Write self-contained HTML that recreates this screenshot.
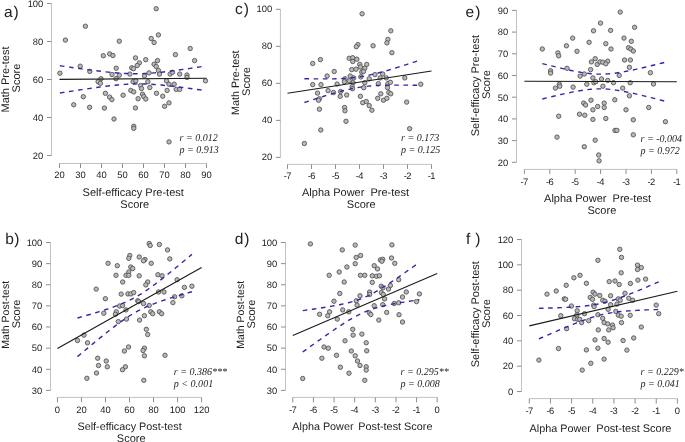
<!DOCTYPE html>
<html><head><meta charset="utf-8"><style>
html,body{margin:0;padding:0;background:#fff;}
body{width:685px;height:442px;overflow:hidden;}
svg{display:block;will-change:transform;}
</style></head><body>
<svg width="685" height="442" viewBox="0 0 685 442" style="font-family:'Liberation Sans',sans-serif" text-rendering="geometricPrecision">
<rect width="685" height="442" fill="#fff"/>
<line x1="51.5" y1="3.5" x2="51.5" y2="155.5" stroke="#c2c2c2" stroke-width="1"/>
<line x1="47.0" y1="155.5" x2="51.5" y2="155.5" stroke="#8e8e8e" stroke-width="1"/>
<text x="43.30" y="158.80" font-size="9.4" text-anchor="end" font-family="Liberation Sans"  fill="#222" >20</text>
<line x1="47.0" y1="117.5" x2="51.5" y2="117.5" stroke="#8e8e8e" stroke-width="1"/>
<text x="43.30" y="120.80" font-size="9.4" text-anchor="end" font-family="Liberation Sans"  fill="#222" >40</text>
<line x1="47.0" y1="79.5" x2="51.5" y2="79.5" stroke="#8e8e8e" stroke-width="1"/>
<text x="43.30" y="82.80" font-size="9.4" text-anchor="end" font-family="Liberation Sans"  fill="#222" >60</text>
<line x1="47.0" y1="41.5" x2="51.5" y2="41.5" stroke="#8e8e8e" stroke-width="1"/>
<text x="43.30" y="44.80" font-size="9.4" text-anchor="end" font-family="Liberation Sans"  fill="#222" >80</text>
<line x1="47.0" y1="3.5" x2="51.5" y2="3.5" stroke="#8e8e8e" stroke-width="1"/>
<text x="43.30" y="6.80" font-size="9.4" text-anchor="end" font-family="Liberation Sans"  fill="#222" >100</text>
<line x1="59.5" y1="163.5" x2="206.5" y2="163.5" stroke="#c2c2c2" stroke-width="1"/>
<line x1="59.5" y1="163.5" x2="59.5" y2="168.0" stroke="#8e8e8e" stroke-width="1"/>
<text x="59.50" y="178.40" font-size="9.4" text-anchor="middle" font-family="Liberation Sans"  fill="#222" >20</text>
<line x1="80.5" y1="163.5" x2="80.5" y2="168.0" stroke="#8e8e8e" stroke-width="1"/>
<text x="80.50" y="178.40" font-size="9.4" text-anchor="middle" font-family="Liberation Sans"  fill="#222" >30</text>
<line x1="101.5" y1="163.5" x2="101.5" y2="168.0" stroke="#8e8e8e" stroke-width="1"/>
<text x="101.50" y="178.40" font-size="9.4" text-anchor="middle" font-family="Liberation Sans"  fill="#222" >40</text>
<line x1="122.5" y1="163.5" x2="122.5" y2="168.0" stroke="#8e8e8e" stroke-width="1"/>
<text x="122.50" y="178.40" font-size="9.4" text-anchor="middle" font-family="Liberation Sans"  fill="#222" >50</text>
<line x1="143.5" y1="163.5" x2="143.5" y2="168.0" stroke="#8e8e8e" stroke-width="1"/>
<text x="143.50" y="178.40" font-size="9.4" text-anchor="middle" font-family="Liberation Sans"  fill="#222" >60</text>
<line x1="164.5" y1="163.5" x2="164.5" y2="168.0" stroke="#8e8e8e" stroke-width="1"/>
<text x="164.50" y="178.40" font-size="9.4" text-anchor="middle" font-family="Liberation Sans"  fill="#222" >70</text>
<line x1="185.5" y1="163.5" x2="185.5" y2="168.0" stroke="#8e8e8e" stroke-width="1"/>
<text x="185.50" y="178.40" font-size="9.4" text-anchor="middle" font-family="Liberation Sans"  fill="#222" >80</text>
<line x1="206.5" y1="163.5" x2="206.5" y2="168.0" stroke="#8e8e8e" stroke-width="1"/>
<text x="206.50" y="178.40" font-size="9.4" text-anchor="middle" font-family="Liberation Sans"  fill="#222" >90</text>
<circle cx="65.4" cy="40.1" r="2.2" fill="#b9b9b9" stroke="#555" stroke-width="0.9"/>
<circle cx="85.4" cy="26.2" r="2.2" fill="#b9b9b9" stroke="#555" stroke-width="0.9"/>
<circle cx="119.3" cy="41.2" r="2.2" fill="#b9b9b9" stroke="#555" stroke-width="0.9"/>
<circle cx="103.3" cy="55.7" r="2.2" fill="#b9b9b9" stroke="#555" stroke-width="0.9"/>
<circle cx="109.7" cy="53.9" r="2.2" fill="#b9b9b9" stroke="#555" stroke-width="0.9"/>
<circle cx="112.9" cy="55.5" r="2.2" fill="#b9b9b9" stroke="#555" stroke-width="0.9"/>
<circle cx="135.5" cy="57.9" r="2.2" fill="#b9b9b9" stroke="#555" stroke-width="0.9"/>
<circle cx="80.2" cy="66.2" r="2.2" fill="#b9b9b9" stroke="#555" stroke-width="0.9"/>
<circle cx="89.8" cy="71.4" r="2.2" fill="#b9b9b9" stroke="#555" stroke-width="0.9"/>
<circle cx="59.9" cy="73.2" r="2.2" fill="#b9b9b9" stroke="#555" stroke-width="0.9"/>
<circle cx="116.2" cy="68.2" r="2.2" fill="#b9b9b9" stroke="#555" stroke-width="0.9"/>
<circle cx="112" cy="74.5" r="2.2" fill="#b9b9b9" stroke="#555" stroke-width="0.9"/>
<circle cx="119.3" cy="75.2" r="2.2" fill="#b9b9b9" stroke="#555" stroke-width="0.9"/>
<circle cx="131.7" cy="67.8" r="2.2" fill="#b9b9b9" stroke="#555" stroke-width="0.9"/>
<circle cx="133.5" cy="68.7" r="2.2" fill="#b9b9b9" stroke="#555" stroke-width="0.9"/>
<circle cx="129.9" cy="74.1" r="2.2" fill="#b9b9b9" stroke="#555" stroke-width="0.9"/>
<circle cx="101" cy="78.7" r="2.2" fill="#b9b9b9" stroke="#555" stroke-width="0.9"/>
<circle cx="116" cy="78.7" r="2.2" fill="#b9b9b9" stroke="#555" stroke-width="0.9"/>
<circle cx="156.2" cy="8.7" r="2.2" fill="#b9b9b9" stroke="#555" stroke-width="0.9"/>
<circle cx="158.4" cy="34.9" r="2.2" fill="#b9b9b9" stroke="#555" stroke-width="0.9"/>
<circle cx="151.2" cy="38.5" r="2.2" fill="#b9b9b9" stroke="#555" stroke-width="0.9"/>
<circle cx="154.1" cy="42.5" r="2.2" fill="#b9b9b9" stroke="#555" stroke-width="0.9"/>
<circle cx="190.2" cy="48.5" r="2.2" fill="#b9b9b9" stroke="#555" stroke-width="0.9"/>
<circle cx="175.4" cy="54.6" r="2.2" fill="#b9b9b9" stroke="#555" stroke-width="0.9"/>
<circle cx="194.6" cy="60.6" r="2.2" fill="#b9b9b9" stroke="#555" stroke-width="0.9"/>
<circle cx="145.7" cy="59.7" r="2.2" fill="#b9b9b9" stroke="#555" stroke-width="0.9"/>
<circle cx="157.5" cy="60.6" r="2.2" fill="#b9b9b9" stroke="#555" stroke-width="0.9"/>
<circle cx="139.4" cy="62.9" r="2.2" fill="#b9b9b9" stroke="#555" stroke-width="0.9"/>
<circle cx="137.2" cy="65.5" r="2.2" fill="#b9b9b9" stroke="#555" stroke-width="0.9"/>
<circle cx="154.1" cy="64.2" r="2.2" fill="#b9b9b9" stroke="#555" stroke-width="0.9"/>
<circle cx="156.2" cy="66.5" r="2.2" fill="#b9b9b9" stroke="#555" stroke-width="0.9"/>
<circle cx="158.4" cy="70.5" r="2.2" fill="#b9b9b9" stroke="#555" stroke-width="0.9"/>
<circle cx="149" cy="72.9" r="2.2" fill="#b9b9b9" stroke="#555" stroke-width="0.9"/>
<circle cx="159.5" cy="74.1" r="2.2" fill="#b9b9b9" stroke="#555" stroke-width="0.9"/>
<circle cx="170.1" cy="74.1" r="2.2" fill="#b9b9b9" stroke="#555" stroke-width="0.9"/>
<circle cx="172.5" cy="72.3" r="2.2" fill="#b9b9b9" stroke="#555" stroke-width="0.9"/>
<circle cx="179.7" cy="74.1" r="2.2" fill="#b9b9b9" stroke="#555" stroke-width="0.9"/>
<circle cx="187" cy="75" r="2.2" fill="#b9b9b9" stroke="#555" stroke-width="0.9"/>
<circle cx="187" cy="77.4" r="2.2" fill="#b9b9b9" stroke="#555" stroke-width="0.9"/>
<circle cx="144.5" cy="75.9" r="2.2" fill="#b9b9b9" stroke="#555" stroke-width="0.9"/>
<circle cx="205.5" cy="80.8" r="2.2" fill="#b9b9b9" stroke="#555" stroke-width="0.9"/>
<circle cx="98.1" cy="81.7" r="2.2" fill="#b9b9b9" stroke="#555" stroke-width="0.9"/>
<circle cx="100.4" cy="83.3" r="2.2" fill="#b9b9b9" stroke="#555" stroke-width="0.9"/>
<circle cx="133.1" cy="81.7" r="2.2" fill="#b9b9b9" stroke="#555" stroke-width="0.9"/>
<circle cx="130.8" cy="90.4" r="2.2" fill="#b9b9b9" stroke="#555" stroke-width="0.9"/>
<circle cx="133.7" cy="91.9" r="2.2" fill="#b9b9b9" stroke="#555" stroke-width="0.9"/>
<circle cx="105.4" cy="93.3" r="2.2" fill="#b9b9b9" stroke="#555" stroke-width="0.9"/>
<circle cx="123.1" cy="95.2" r="2.2" fill="#b9b9b9" stroke="#555" stroke-width="0.9"/>
<circle cx="83.3" cy="96.7" r="2.2" fill="#b9b9b9" stroke="#555" stroke-width="0.9"/>
<circle cx="109.6" cy="97.1" r="2.2" fill="#b9b9b9" stroke="#555" stroke-width="0.9"/>
<circle cx="111.9" cy="99.6" r="2.2" fill="#b9b9b9" stroke="#555" stroke-width="0.9"/>
<circle cx="73.7" cy="104.8" r="2.2" fill="#b9b9b9" stroke="#555" stroke-width="0.9"/>
<circle cx="89.6" cy="107.3" r="2.2" fill="#b9b9b9" stroke="#555" stroke-width="0.9"/>
<circle cx="104.4" cy="108.1" r="2.2" fill="#b9b9b9" stroke="#555" stroke-width="0.9"/>
<circle cx="135.4" cy="107.9" r="2.2" fill="#b9b9b9" stroke="#555" stroke-width="0.9"/>
<circle cx="114" cy="119" r="2.2" fill="#b9b9b9" stroke="#555" stroke-width="0.9"/>
<circle cx="133.8" cy="126.3" r="2.2" fill="#b9b9b9" stroke="#555" stroke-width="0.9"/>
<circle cx="133.8" cy="128.3" r="2.2" fill="#b9b9b9" stroke="#555" stroke-width="0.9"/>
<circle cx="135.8" cy="80.8" r="2.2" fill="#b9b9b9" stroke="#555" stroke-width="0.9"/>
<circle cx="147.9" cy="81.7" r="2.2" fill="#b9b9b9" stroke="#555" stroke-width="0.9"/>
<circle cx="166.5" cy="80.8" r="2.2" fill="#b9b9b9" stroke="#555" stroke-width="0.9"/>
<circle cx="169" cy="84.2" r="2.2" fill="#b9b9b9" stroke="#555" stroke-width="0.9"/>
<circle cx="174.2" cy="84.2" r="2.2" fill="#b9b9b9" stroke="#555" stroke-width="0.9"/>
<circle cx="140.6" cy="85.6" r="2.2" fill="#b9b9b9" stroke="#555" stroke-width="0.9"/>
<circle cx="141.5" cy="88.5" r="2.2" fill="#b9b9b9" stroke="#555" stroke-width="0.9"/>
<circle cx="149.8" cy="87.5" r="2.2" fill="#b9b9b9" stroke="#555" stroke-width="0.9"/>
<circle cx="176.2" cy="89.4" r="2.2" fill="#b9b9b9" stroke="#555" stroke-width="0.9"/>
<circle cx="179.6" cy="89.4" r="2.2" fill="#b9b9b9" stroke="#555" stroke-width="0.9"/>
<circle cx="167.1" cy="90.4" r="2.2" fill="#b9b9b9" stroke="#555" stroke-width="0.9"/>
<circle cx="142.5" cy="94.2" r="2.2" fill="#b9b9b9" stroke="#555" stroke-width="0.9"/>
<circle cx="156.5" cy="93.3" r="2.2" fill="#b9b9b9" stroke="#555" stroke-width="0.9"/>
<circle cx="143.8" cy="96.5" r="2.2" fill="#b9b9b9" stroke="#555" stroke-width="0.9"/>
<circle cx="162.7" cy="96.2" r="2.2" fill="#b9b9b9" stroke="#555" stroke-width="0.9"/>
<circle cx="145.8" cy="99" r="2.2" fill="#b9b9b9" stroke="#555" stroke-width="0.9"/>
<circle cx="138.1" cy="98.7" r="2.2" fill="#b9b9b9" stroke="#555" stroke-width="0.9"/>
<circle cx="169" cy="102.9" r="2.2" fill="#b9b9b9" stroke="#555" stroke-width="0.9"/>
<circle cx="164.6" cy="106.3" r="2.2" fill="#b9b9b9" stroke="#555" stroke-width="0.9"/>
<circle cx="169" cy="141.9" r="2.2" fill="#b9b9b9" stroke="#555" stroke-width="0.9"/>
<line x1="59.5" y1="79.4" x2="206.5" y2="78.3" stroke="#1a1a1a" stroke-width="1.1"/>
<polyline points="59.90,65.78 62.31,66.12 64.72,66.47 67.13,66.81 69.55,67.16 71.96,67.49 74.37,67.83 76.78,68.17 79.19,68.50 81.60,68.83 84.02,69.15 86.43,69.47 88.84,69.79 91.25,70.10 93.66,70.41 96.07,70.71 98.49,71.00 100.90,71.28 103.31,71.56 105.72,71.83 108.13,72.09 110.54,72.33 112.96,72.56 115.37,72.78 117.78,72.98 120.19,73.16 122.60,73.32 125.01,73.46 127.43,73.57 129.84,73.66 132.25,73.71 134.66,73.74 137.07,73.74 139.48,73.71 141.90,73.64 144.31,73.55 146.72,73.43 149.13,73.28 151.54,73.11 153.95,72.91 156.37,72.70 158.78,72.46 161.19,72.21 163.60,71.94 166.01,71.66 168.42,71.37 170.84,71.06 173.25,70.75 175.66,70.43 178.07,70.10 180.48,69.76 182.89,69.42 185.31,69.07 187.72,68.72 190.13,68.36 192.54,68.00 194.95,67.64 197.37,67.27 199.78,66.90 202.19,66.53 204.60,66.15" fill="none" stroke="#3028b0" stroke-width="1.4" stroke-dasharray="4.6 4.6"/>
<polyline points="59.90,93.02 62.31,92.63 64.72,92.25 67.13,91.87 69.55,91.49 71.96,91.12 74.37,90.75 76.78,90.37 79.19,90.01 81.60,89.64 84.02,89.28 86.43,88.93 88.84,88.57 91.25,88.23 93.66,87.88 96.07,87.55 98.49,87.22 100.90,86.90 103.31,86.58 105.72,86.28 108.13,85.99 110.54,85.70 112.96,85.44 115.37,85.18 117.78,84.95 120.19,84.73 122.60,84.53 125.01,84.36 127.43,84.21 129.84,84.09 132.25,84.00 134.66,83.93 137.07,83.90 139.48,83.90 141.90,83.92 144.31,83.98 146.72,84.07 149.13,84.18 151.54,84.31 153.95,84.47 156.37,84.65 158.78,84.85 161.19,85.07 163.60,85.30 166.01,85.55 168.42,85.80 170.84,86.07 173.25,86.35 175.66,86.63 178.07,86.93 180.48,87.23 182.89,87.53 185.31,87.84 187.72,88.16 190.13,88.48 192.54,88.81 194.95,89.13 197.37,89.46 199.78,89.80 202.19,90.14 204.60,90.48" fill="none" stroke="#3028b0" stroke-width="1.4" stroke-dasharray="4.6 4.6"/>
<text x="3.90" y="16.90" font-size="15.5" text-anchor="start" font-family="Liberation Sans"  fill="#222" letter-spacing="1.0">a)</text>
<text x="133.20" y="195.80" font-size="11" text-anchor="middle" font-family="Liberation Sans"  fill="#222" >Self-efficacy Pre-test</text>
<text x="134.70" y="208.00" font-size="11" text-anchor="middle" font-family="Liberation Sans"  fill="#222" >Score</text>
<text transform="translate(9.40,79.50) rotate(-90)" font-size="11" text-anchor="middle" font-family="Liberation Sans" fill="#222">Math Pre-test</text>
<text transform="translate(19.90,78.00) rotate(-90)" font-size="11" text-anchor="middle" font-family="Liberation Sans" fill="#222">Score</text>
<text transform="translate(179.50,141.10) scale(0.955,1)" font-size="10.5" text-anchor="start" font-family="Liberation Serif" font-style="italic" fill="#222" >r = 0.012</text>
<text transform="translate(179.50,153.20) scale(0.955,1)" font-size="10.5" text-anchor="start" font-family="Liberation Serif" font-style="italic" fill="#222" >p = 0.913</text>
<line x1="280.4" y1="9.3" x2="280.4" y2="157.4" stroke="#c2c2c2" stroke-width="1"/>
<line x1="275.9" y1="157.4" x2="280.4" y2="157.4" stroke="#8e8e8e" stroke-width="1"/>
<text x="272.20" y="160.20" font-size="9.4" text-anchor="end" font-family="Liberation Sans"  fill="#222" >20</text>
<line x1="275.9" y1="120.38" x2="280.4" y2="120.38" stroke="#8e8e8e" stroke-width="1"/>
<text x="272.20" y="123.18" font-size="9.4" text-anchor="end" font-family="Liberation Sans"  fill="#222" >40</text>
<line x1="275.9" y1="83.35" x2="280.4" y2="83.35" stroke="#8e8e8e" stroke-width="1"/>
<text x="272.20" y="86.15" font-size="9.4" text-anchor="end" font-family="Liberation Sans"  fill="#222" >60</text>
<line x1="275.9" y1="46.33" x2="280.4" y2="46.33" stroke="#8e8e8e" stroke-width="1"/>
<text x="272.20" y="49.13" font-size="9.4" text-anchor="end" font-family="Liberation Sans"  fill="#222" >80</text>
<line x1="275.9" y1="9.3" x2="280.4" y2="9.3" stroke="#8e8e8e" stroke-width="1"/>
<text x="272.20" y="12.10" font-size="9.4" text-anchor="end" font-family="Liberation Sans"  fill="#222" >100</text>
<line x1="287.5" y1="164.4" x2="431.5" y2="164.4" stroke="#c2c2c2" stroke-width="1"/>
<line x1="287.5" y1="164.4" x2="287.5" y2="168.9" stroke="#8e8e8e" stroke-width="1"/>
<text x="287.50" y="179.30" font-size="9.4" text-anchor="middle" font-family="Liberation Sans"  fill="#222" >-<tspan dx="-0.6">7</tspan></text>
<line x1="311.5" y1="164.4" x2="311.5" y2="168.9" stroke="#8e8e8e" stroke-width="1"/>
<text x="311.50" y="179.30" font-size="9.4" text-anchor="middle" font-family="Liberation Sans"  fill="#222" >-<tspan dx="-0.6">6</tspan></text>
<line x1="335.5" y1="164.4" x2="335.5" y2="168.9" stroke="#8e8e8e" stroke-width="1"/>
<text x="335.50" y="179.30" font-size="9.4" text-anchor="middle" font-family="Liberation Sans"  fill="#222" >-<tspan dx="-0.6">5</tspan></text>
<line x1="359.5" y1="164.4" x2="359.5" y2="168.9" stroke="#8e8e8e" stroke-width="1"/>
<text x="359.50" y="179.30" font-size="9.4" text-anchor="middle" font-family="Liberation Sans"  fill="#222" >-<tspan dx="-0.6">4</tspan></text>
<line x1="383.5" y1="164.4" x2="383.5" y2="168.9" stroke="#8e8e8e" stroke-width="1"/>
<text x="383.50" y="179.30" font-size="9.4" text-anchor="middle" font-family="Liberation Sans"  fill="#222" >-<tspan dx="-0.6">3</tspan></text>
<line x1="407.5" y1="164.4" x2="407.5" y2="168.9" stroke="#8e8e8e" stroke-width="1"/>
<text x="407.50" y="179.30" font-size="9.4" text-anchor="middle" font-family="Liberation Sans"  fill="#222" >-<tspan dx="-0.6">2</tspan></text>
<line x1="431.5" y1="164.4" x2="431.5" y2="168.9" stroke="#8e8e8e" stroke-width="1"/>
<text x="431.50" y="179.30" font-size="9.4" text-anchor="middle" font-family="Liberation Sans"  fill="#222" >-<tspan dx="-0.6">1</tspan></text>
<circle cx="362.1" cy="13.8" r="2.2" fill="#b9b9b9" stroke="#555" stroke-width="0.9"/>
<circle cx="357.9" cy="44.6" r="2.2" fill="#b9b9b9" stroke="#555" stroke-width="0.9"/>
<circle cx="356.3" cy="46.7" r="2.2" fill="#b9b9b9" stroke="#555" stroke-width="0.9"/>
<circle cx="312.7" cy="63.5" r="2.2" fill="#b9b9b9" stroke="#555" stroke-width="0.9"/>
<circle cx="320.4" cy="59.6" r="2.2" fill="#b9b9b9" stroke="#555" stroke-width="0.9"/>
<circle cx="349.2" cy="58.3" r="2.2" fill="#b9b9b9" stroke="#555" stroke-width="0.9"/>
<circle cx="352.7" cy="57.7" r="2.2" fill="#b9b9b9" stroke="#555" stroke-width="0.9"/>
<circle cx="356.9" cy="59.2" r="2.2" fill="#b9b9b9" stroke="#555" stroke-width="0.9"/>
<circle cx="352.7" cy="61.5" r="2.2" fill="#b9b9b9" stroke="#555" stroke-width="0.9"/>
<circle cx="359.8" cy="64.4" r="2.2" fill="#b9b9b9" stroke="#555" stroke-width="0.9"/>
<circle cx="360.4" cy="67.0" r="2.2" fill="#b9b9b9" stroke="#555" stroke-width="0.9"/>
<circle cx="334.2" cy="71.5" r="2.2" fill="#b9b9b9" stroke="#555" stroke-width="0.9"/>
<circle cx="351.7" cy="69.6" r="2.2" fill="#b9b9b9" stroke="#555" stroke-width="0.9"/>
<circle cx="356" cy="69.2" r="2.2" fill="#b9b9b9" stroke="#555" stroke-width="0.9"/>
<circle cx="361.7" cy="72.1" r="2.2" fill="#b9b9b9" stroke="#555" stroke-width="0.9"/>
<circle cx="327.1" cy="76" r="2.2" fill="#b9b9b9" stroke="#555" stroke-width="0.9"/>
<circle cx="350.2" cy="76" r="2.2" fill="#b9b9b9" stroke="#555" stroke-width="0.9"/>
<circle cx="353.7" cy="77.9" r="2.2" fill="#b9b9b9" stroke="#555" stroke-width="0.9"/>
<circle cx="345" cy="78.8" r="2.2" fill="#b9b9b9" stroke="#555" stroke-width="0.9"/>
<circle cx="312.7" cy="84.6" r="2.2" fill="#b9b9b9" stroke="#555" stroke-width="0.9"/>
<circle cx="321" cy="84.6" r="2.2" fill="#b9b9b9" stroke="#555" stroke-width="0.9"/>
<circle cx="337.1" cy="84" r="2.2" fill="#b9b9b9" stroke="#555" stroke-width="0.9"/>
<circle cx="344.4" cy="81.7" r="2.2" fill="#b9b9b9" stroke="#555" stroke-width="0.9"/>
<circle cx="349.2" cy="80.8" r="2.2" fill="#b9b9b9" stroke="#555" stroke-width="0.9"/>
<circle cx="353.1" cy="82.7" r="2.2" fill="#b9b9b9" stroke="#555" stroke-width="0.9"/>
<circle cx="360.8" cy="76.9" r="2.2" fill="#b9b9b9" stroke="#555" stroke-width="0.9"/>
<circle cx="390.8" cy="30.8" r="2.2" fill="#b9b9b9" stroke="#555" stroke-width="0.9"/>
<circle cx="387.9" cy="39.4" r="2.2" fill="#b9b9b9" stroke="#555" stroke-width="0.9"/>
<circle cx="386.9" cy="42.9" r="2.2" fill="#b9b9b9" stroke="#555" stroke-width="0.9"/>
<circle cx="373.1" cy="45.8" r="2.2" fill="#b9b9b9" stroke="#555" stroke-width="0.9"/>
<circle cx="391.9" cy="52.7" r="2.2" fill="#b9b9b9" stroke="#555" stroke-width="0.9"/>
<circle cx="366.7" cy="64.4" r="2.2" fill="#b9b9b9" stroke="#555" stroke-width="0.9"/>
<circle cx="364.8" cy="68.3" r="2.2" fill="#b9b9b9" stroke="#555" stroke-width="0.9"/>
<circle cx="363.5" cy="71.5" r="2.2" fill="#b9b9b9" stroke="#555" stroke-width="0.9"/>
<circle cx="375" cy="74.6" r="2.2" fill="#b9b9b9" stroke="#555" stroke-width="0.9"/>
<circle cx="382.7" cy="74" r="2.2" fill="#b9b9b9" stroke="#555" stroke-width="0.9"/>
<circle cx="380.2" cy="77.9" r="2.2" fill="#b9b9b9" stroke="#555" stroke-width="0.9"/>
<circle cx="386.3" cy="77.9" r="2.2" fill="#b9b9b9" stroke="#555" stroke-width="0.9"/>
<circle cx="369.2" cy="78.8" r="2.2" fill="#b9b9b9" stroke="#555" stroke-width="0.9"/>
<circle cx="364.8" cy="82.7" r="2.2" fill="#b9b9b9" stroke="#555" stroke-width="0.9"/>
<circle cx="378.3" cy="83.7" r="2.2" fill="#b9b9b9" stroke="#555" stroke-width="0.9"/>
<circle cx="387.9" cy="83.7" r="2.2" fill="#b9b9b9" stroke="#555" stroke-width="0.9"/>
<circle cx="390.4" cy="82.3" r="2.2" fill="#b9b9b9" stroke="#555" stroke-width="0.9"/>
<circle cx="404.8" cy="77.9" r="2.2" fill="#b9b9b9" stroke="#555" stroke-width="0.9"/>
<circle cx="420.8" cy="84.2" r="2.2" fill="#b9b9b9" stroke="#555" stroke-width="0.9"/>
<circle cx="352.1" cy="86.7" r="2.2" fill="#b9b9b9" stroke="#555" stroke-width="0.9"/>
<circle cx="352.5" cy="88.7" r="2.2" fill="#b9b9b9" stroke="#555" stroke-width="0.9"/>
<circle cx="363.7" cy="87.7" r="2.2" fill="#b9b9b9" stroke="#555" stroke-width="0.9"/>
<circle cx="328.1" cy="90.6" r="2.2" fill="#b9b9b9" stroke="#555" stroke-width="0.9"/>
<circle cx="317.5" cy="93.1" r="2.2" fill="#b9b9b9" stroke="#555" stroke-width="0.9"/>
<circle cx="333.5" cy="92.5" r="2.2" fill="#b9b9b9" stroke="#555" stroke-width="0.9"/>
<circle cx="340.6" cy="91.5" r="2.2" fill="#b9b9b9" stroke="#555" stroke-width="0.9"/>
<circle cx="340.2" cy="96.3" r="2.2" fill="#b9b9b9" stroke="#555" stroke-width="0.9"/>
<circle cx="346.7" cy="95" r="2.2" fill="#b9b9b9" stroke="#555" stroke-width="0.9"/>
<circle cx="360.4" cy="96.3" r="2.2" fill="#b9b9b9" stroke="#555" stroke-width="0.9"/>
<circle cx="319.4" cy="98.8" r="2.2" fill="#b9b9b9" stroke="#555" stroke-width="0.9"/>
<circle cx="318.5" cy="100.2" r="2.2" fill="#b9b9b9" stroke="#555" stroke-width="0.9"/>
<circle cx="362.7" cy="102.7" r="2.2" fill="#b9b9b9" stroke="#555" stroke-width="0.9"/>
<circle cx="319.4" cy="109.2" r="2.2" fill="#b9b9b9" stroke="#555" stroke-width="0.9"/>
<circle cx="344.6" cy="107.5" r="2.2" fill="#b9b9b9" stroke="#555" stroke-width="0.9"/>
<circle cx="345" cy="110.8" r="2.2" fill="#b9b9b9" stroke="#555" stroke-width="0.9"/>
<circle cx="346" cy="121.3" r="2.2" fill="#b9b9b9" stroke="#555" stroke-width="0.9"/>
<circle cx="320.8" cy="130" r="2.2" fill="#b9b9b9" stroke="#555" stroke-width="0.9"/>
<circle cx="304.4" cy="143.5" r="2.2" fill="#b9b9b9" stroke="#555" stroke-width="0.9"/>
<circle cx="387.5" cy="87.7" r="2.2" fill="#b9b9b9" stroke="#555" stroke-width="0.9"/>
<circle cx="380.8" cy="93.8" r="2.2" fill="#b9b9b9" stroke="#555" stroke-width="0.9"/>
<circle cx="388.8" cy="92.5" r="2.2" fill="#b9b9b9" stroke="#555" stroke-width="0.9"/>
<circle cx="390.8" cy="93.8" r="2.2" fill="#b9b9b9" stroke="#555" stroke-width="0.9"/>
<circle cx="377.7" cy="98.3" r="2.2" fill="#b9b9b9" stroke="#555" stroke-width="0.9"/>
<circle cx="383.5" cy="100.2" r="2.2" fill="#b9b9b9" stroke="#555" stroke-width="0.9"/>
<circle cx="386.9" cy="98.3" r="2.2" fill="#b9b9b9" stroke="#555" stroke-width="0.9"/>
<circle cx="366.3" cy="101.5" r="2.2" fill="#b9b9b9" stroke="#555" stroke-width="0.9"/>
<circle cx="369.2" cy="105.6" r="2.2" fill="#b9b9b9" stroke="#555" stroke-width="0.9"/>
<circle cx="371.9" cy="110.2" r="2.2" fill="#b9b9b9" stroke="#555" stroke-width="0.9"/>
<circle cx="406.7" cy="102.1" r="2.2" fill="#b9b9b9" stroke="#555" stroke-width="0.9"/>
<circle cx="409.6" cy="128.7" r="2.2" fill="#b9b9b9" stroke="#555" stroke-width="0.9"/>
<line x1="287.5" y1="93.2" x2="431.5" y2="71.0" stroke="#1a1a1a" stroke-width="1.1"/>
<polyline points="304.40,78.71 306.34,78.75 308.28,78.78 310.22,78.81 312.16,78.84 314.10,78.86 316.04,78.88 317.98,78.90 319.92,78.91 321.86,78.91 323.80,78.92 325.74,78.91 327.68,78.90 329.62,78.89 331.56,78.86 333.50,78.83 335.44,78.79 337.38,78.73 339.32,78.67 341.26,78.59 343.20,78.49 345.14,78.38 347.08,78.25 349.02,78.11 350.96,77.94 352.90,77.75 354.84,77.53 356.78,77.29 358.72,77.02 360.66,76.73 362.60,76.41 364.54,76.06 366.48,75.69 368.42,75.29 370.36,74.87 372.30,74.43 374.24,73.97 376.18,73.49 378.12,72.99 380.06,72.48 382.00,71.95 383.94,71.41 385.88,70.86 387.82,70.30 389.76,69.73 391.70,69.15 393.64,68.57 395.58,67.98 397.52,67.38 399.46,66.78 401.40,66.17 403.34,65.55 405.28,64.94 407.22,64.32 409.16,63.69 411.10,63.07 413.04,62.44 414.98,61.81 416.92,61.17 418.86,60.54 420.80,59.90" fill="none" stroke="#3028b0" stroke-width="1.4" stroke-dasharray="4.6 4.6"/>
<polyline points="304.40,102.48 306.34,101.84 308.28,101.21 310.22,100.59 312.16,99.96 314.10,99.34 316.04,98.72 317.98,98.11 319.92,97.50 321.86,96.89 323.80,96.29 325.74,95.70 327.68,95.11 329.62,94.53 331.56,93.95 333.50,93.39 335.44,92.83 337.38,92.29 339.32,91.76 341.26,91.24 343.20,90.73 345.14,90.24 347.08,89.77 349.02,89.32 350.96,88.89 352.90,88.49 354.84,88.11 356.78,87.75 358.72,87.42 360.66,87.11 362.60,86.83 364.54,86.58 366.48,86.36 368.42,86.15 370.36,85.98 372.30,85.82 374.24,85.68 376.18,85.57 378.12,85.47 380.06,85.38 382.00,85.31 383.94,85.25 385.88,85.20 387.82,85.17 389.76,85.14 391.70,85.12 393.64,85.10 395.58,85.10 397.52,85.10 399.46,85.10 401.40,85.11 403.34,85.13 405.28,85.15 407.22,85.17 409.16,85.19 411.10,85.22 413.04,85.25 414.98,85.29 416.92,85.32 418.86,85.36 420.80,85.40" fill="none" stroke="#3028b0" stroke-width="1.4" stroke-dasharray="4.6 4.6"/>
<text x="235.00" y="13.80" font-size="15.5" text-anchor="start" font-family="Liberation Sans"  fill="#222" letter-spacing="1.0">c)</text>
<text x="355.50" y="196.10" font-size="11" text-anchor="middle" font-family="Liberation Sans"  fill="#222" >Alpha Power&#160;&#160;Pre-test</text>
<text x="361.20" y="208.00" font-size="11" text-anchor="middle" font-family="Liberation Sans"  fill="#222" >Score</text>
<text transform="translate(238.90,82.70) rotate(-90)" font-size="10.75" text-anchor="middle" font-family="Liberation Sans" fill="#222">Math Pre-test</text>
<text transform="translate(250.10,81.50) rotate(-90)" font-size="11" text-anchor="middle" font-family="Liberation Sans" fill="#222">Score</text>
<text transform="translate(401.00,141.10) scale(0.955,1)" font-size="10.5" text-anchor="start" font-family="Liberation Serif" font-style="italic" fill="#222" >r = 0.173</text>
<text transform="translate(401.00,153.40) scale(0.955,1)" font-size="10.5" text-anchor="start" font-family="Liberation Serif" font-style="italic" fill="#222" >p = 0.125</text>
<line x1="516.5" y1="10.4" x2="516.5" y2="162.3" stroke="#c2c2c2" stroke-width="1"/>
<line x1="512.0" y1="162.3" x2="516.5" y2="162.3" stroke="#8e8e8e" stroke-width="1"/>
<text x="508.30" y="165.60" font-size="9.4" text-anchor="end" font-family="Liberation Sans"  fill="#222" >20</text>
<line x1="512.0" y1="140.6" x2="516.5" y2="140.6" stroke="#8e8e8e" stroke-width="1"/>
<text x="508.30" y="143.90" font-size="9.4" text-anchor="end" font-family="Liberation Sans"  fill="#222" >30</text>
<line x1="512.0" y1="118.9" x2="516.5" y2="118.9" stroke="#8e8e8e" stroke-width="1"/>
<text x="508.30" y="122.20" font-size="9.4" text-anchor="end" font-family="Liberation Sans"  fill="#222" >40</text>
<line x1="512.0" y1="97.2" x2="516.5" y2="97.2" stroke="#8e8e8e" stroke-width="1"/>
<text x="508.30" y="100.50" font-size="9.4" text-anchor="end" font-family="Liberation Sans"  fill="#222" >50</text>
<line x1="512.0" y1="75.5" x2="516.5" y2="75.5" stroke="#8e8e8e" stroke-width="1"/>
<text x="508.30" y="78.80" font-size="9.4" text-anchor="end" font-family="Liberation Sans"  fill="#222" >60</text>
<line x1="512.0" y1="53.8" x2="516.5" y2="53.8" stroke="#8e8e8e" stroke-width="1"/>
<text x="508.30" y="57.10" font-size="9.4" text-anchor="end" font-family="Liberation Sans"  fill="#222" >70</text>
<line x1="512.0" y1="32.1" x2="516.5" y2="32.1" stroke="#8e8e8e" stroke-width="1"/>
<text x="508.30" y="35.40" font-size="9.4" text-anchor="end" font-family="Liberation Sans"  fill="#222" >80</text>
<line x1="512.0" y1="10.4" x2="516.5" y2="10.4" stroke="#8e8e8e" stroke-width="1"/>
<text x="508.30" y="13.70" font-size="9.4" text-anchor="end" font-family="Liberation Sans"  fill="#222" >90</text>
<line x1="524.4" y1="169.4" x2="676.8" y2="169.4" stroke="#c2c2c2" stroke-width="1"/>
<line x1="524.4" y1="169.4" x2="524.4" y2="173.9" stroke="#8e8e8e" stroke-width="1"/>
<text x="524.40" y="184.90" font-size="9.4" text-anchor="middle" font-family="Liberation Sans"  fill="#222" >-<tspan dx="-0.6">7</tspan></text>
<line x1="549.8" y1="169.4" x2="549.8" y2="173.9" stroke="#8e8e8e" stroke-width="1"/>
<text x="549.80" y="184.90" font-size="9.4" text-anchor="middle" font-family="Liberation Sans"  fill="#222" >-<tspan dx="-0.6">6</tspan></text>
<line x1="575.2" y1="169.4" x2="575.2" y2="173.9" stroke="#8e8e8e" stroke-width="1"/>
<text x="575.20" y="184.90" font-size="9.4" text-anchor="middle" font-family="Liberation Sans"  fill="#222" >-<tspan dx="-0.6">5</tspan></text>
<line x1="600.6" y1="169.4" x2="600.6" y2="173.9" stroke="#8e8e8e" stroke-width="1"/>
<text x="600.60" y="184.90" font-size="9.4" text-anchor="middle" font-family="Liberation Sans"  fill="#222" >-<tspan dx="-0.6">4</tspan></text>
<line x1="626.0" y1="169.4" x2="626.0" y2="173.9" stroke="#8e8e8e" stroke-width="1"/>
<text x="626.00" y="184.90" font-size="9.4" text-anchor="middle" font-family="Liberation Sans"  fill="#222" >-<tspan dx="-0.6">3</tspan></text>
<line x1="651.4" y1="169.4" x2="651.4" y2="173.9" stroke="#8e8e8e" stroke-width="1"/>
<text x="651.40" y="184.90" font-size="9.4" text-anchor="middle" font-family="Liberation Sans"  fill="#222" >-<tspan dx="-0.6">2</tspan></text>
<line x1="676.8" y1="169.4" x2="676.8" y2="173.9" stroke="#8e8e8e" stroke-width="1"/>
<text x="676.80" y="184.90" font-size="9.4" text-anchor="middle" font-family="Liberation Sans"  fill="#222" >-<tspan dx="-0.6">1</tspan></text>
<circle cx="600.5" cy="23.1" r="2.2" fill="#b9b9b9" stroke="#555" stroke-width="0.9"/>
<circle cx="593.5" cy="30.8" r="2.2" fill="#b9b9b9" stroke="#555" stroke-width="0.9"/>
<circle cx="572.7" cy="38.1" r="2.2" fill="#b9b9b9" stroke="#555" stroke-width="0.9"/>
<circle cx="589.1" cy="42.3" r="2.2" fill="#b9b9b9" stroke="#555" stroke-width="0.9"/>
<circle cx="542.3" cy="49" r="2.2" fill="#b9b9b9" stroke="#555" stroke-width="0.9"/>
<circle cx="566.4" cy="45.8" r="2.2" fill="#b9b9b9" stroke="#555" stroke-width="0.9"/>
<circle cx="577" cy="51.3" r="2.2" fill="#b9b9b9" stroke="#555" stroke-width="0.9"/>
<circle cx="557.9" cy="52.9" r="2.2" fill="#b9b9b9" stroke="#555" stroke-width="0.9"/>
<circle cx="558.7" cy="55.8" r="2.2" fill="#b9b9b9" stroke="#555" stroke-width="0.9"/>
<circle cx="595.2" cy="58.7" r="2.2" fill="#b9b9b9" stroke="#555" stroke-width="0.9"/>
<circle cx="591.4" cy="61.9" r="2.2" fill="#b9b9b9" stroke="#555" stroke-width="0.9"/>
<circle cx="597.2" cy="64.4" r="2.2" fill="#b9b9b9" stroke="#555" stroke-width="0.9"/>
<circle cx="600.0" cy="61.9" r="2.2" fill="#b9b9b9" stroke="#555" stroke-width="0.9"/>
<circle cx="602.8" cy="62.2" r="2.2" fill="#b9b9b9" stroke="#555" stroke-width="0.9"/>
<circle cx="567" cy="68.3" r="2.2" fill="#b9b9b9" stroke="#555" stroke-width="0.9"/>
<circle cx="590.6" cy="69.6" r="2.2" fill="#b9b9b9" stroke="#555" stroke-width="0.9"/>
<circle cx="550.6" cy="70.8" r="2.2" fill="#b9b9b9" stroke="#555" stroke-width="0.9"/>
<circle cx="550.6" cy="73.1" r="2.2" fill="#b9b9b9" stroke="#555" stroke-width="0.9"/>
<circle cx="584.3" cy="74" r="2.2" fill="#b9b9b9" stroke="#555" stroke-width="0.9"/>
<circle cx="580.1" cy="76.1" r="2.2" fill="#b9b9b9" stroke="#555" stroke-width="0.9"/>
<circle cx="592.9" cy="77.9" r="2.2" fill="#b9b9b9" stroke="#555" stroke-width="0.9"/>
<circle cx="559.3" cy="84.2" r="2.2" fill="#b9b9b9" stroke="#555" stroke-width="0.9"/>
<circle cx="586.8" cy="84.2" r="2.2" fill="#b9b9b9" stroke="#555" stroke-width="0.9"/>
<circle cx="593.9" cy="82.7" r="2.2" fill="#b9b9b9" stroke="#555" stroke-width="0.9"/>
<circle cx="595.8" cy="81.7" r="2.2" fill="#b9b9b9" stroke="#555" stroke-width="0.9"/>
<circle cx="601.5" cy="79.0" r="2.2" fill="#b9b9b9" stroke="#555" stroke-width="0.9"/>
<circle cx="620.2" cy="12.1" r="2.2" fill="#b9b9b9" stroke="#555" stroke-width="0.9"/>
<circle cx="634.6" cy="27.3" r="2.2" fill="#b9b9b9" stroke="#555" stroke-width="0.9"/>
<circle cx="610.6" cy="30.4" r="2.2" fill="#b9b9b9" stroke="#555" stroke-width="0.9"/>
<circle cx="624" cy="38.1" r="2.2" fill="#b9b9b9" stroke="#555" stroke-width="0.9"/>
<circle cx="631.3" cy="41.3" r="2.2" fill="#b9b9b9" stroke="#555" stroke-width="0.9"/>
<circle cx="605.8" cy="43.7" r="2.2" fill="#b9b9b9" stroke="#555" stroke-width="0.9"/>
<circle cx="611" cy="49" r="2.2" fill="#b9b9b9" stroke="#555" stroke-width="0.9"/>
<circle cx="628.5" cy="47.7" r="2.2" fill="#b9b9b9" stroke="#555" stroke-width="0.9"/>
<circle cx="630.8" cy="49" r="2.2" fill="#b9b9b9" stroke="#555" stroke-width="0.9"/>
<circle cx="633.3" cy="51" r="2.2" fill="#b9b9b9" stroke="#555" stroke-width="0.9"/>
<circle cx="607.7" cy="61.2" r="2.2" fill="#b9b9b9" stroke="#555" stroke-width="0.9"/>
<circle cx="605.8" cy="63.8" r="2.2" fill="#b9b9b9" stroke="#555" stroke-width="0.9"/>
<circle cx="624.6" cy="60" r="2.2" fill="#b9b9b9" stroke="#555" stroke-width="0.9"/>
<circle cx="630.4" cy="60" r="2.2" fill="#b9b9b9" stroke="#555" stroke-width="0.9"/>
<circle cx="629.4" cy="67.3" r="2.2" fill="#b9b9b9" stroke="#555" stroke-width="0.9"/>
<circle cx="619.2" cy="75.4" r="2.2" fill="#b9b9b9" stroke="#555" stroke-width="0.9"/>
<circle cx="650.4" cy="72.7" r="2.2" fill="#b9b9b9" stroke="#555" stroke-width="0.9"/>
<circle cx="607.7" cy="80.4" r="2.2" fill="#b9b9b9" stroke="#555" stroke-width="0.9"/>
<circle cx="613.5" cy="82.7" r="2.2" fill="#b9b9b9" stroke="#555" stroke-width="0.9"/>
<circle cx="630.2" cy="82.7" r="2.2" fill="#b9b9b9" stroke="#555" stroke-width="0.9"/>
<circle cx="653.5" cy="84" r="2.2" fill="#b9b9b9" stroke="#555" stroke-width="0.9"/>
<circle cx="559.8" cy="86.2" r="2.2" fill="#b9b9b9" stroke="#555" stroke-width="0.9"/>
<circle cx="555.4" cy="88.1" r="2.2" fill="#b9b9b9" stroke="#555" stroke-width="0.9"/>
<circle cx="573.1" cy="87.1" r="2.2" fill="#b9b9b9" stroke="#555" stroke-width="0.9"/>
<circle cx="591" cy="100.2" r="2.2" fill="#b9b9b9" stroke="#555" stroke-width="0.9"/>
<circle cx="583.7" cy="103.1" r="2.2" fill="#b9b9b9" stroke="#555" stroke-width="0.9"/>
<circle cx="585.6" cy="105" r="2.2" fill="#b9b9b9" stroke="#555" stroke-width="0.9"/>
<circle cx="597.7" cy="106.5" r="2.2" fill="#b9b9b9" stroke="#555" stroke-width="0.9"/>
<circle cx="592.9" cy="109.8" r="2.2" fill="#b9b9b9" stroke="#555" stroke-width="0.9"/>
<circle cx="579.5" cy="114.2" r="2.2" fill="#b9b9b9" stroke="#555" stroke-width="0.9"/>
<circle cx="584.8" cy="115.2" r="2.2" fill="#b9b9b9" stroke="#555" stroke-width="0.9"/>
<circle cx="558.7" cy="116.2" r="2.2" fill="#b9b9b9" stroke="#555" stroke-width="0.9"/>
<circle cx="592.9" cy="119.4" r="2.2" fill="#b9b9b9" stroke="#555" stroke-width="0.9"/>
<circle cx="557" cy="137.1" r="2.2" fill="#b9b9b9" stroke="#555" stroke-width="0.9"/>
<circle cx="595.2" cy="140.2" r="2.2" fill="#b9b9b9" stroke="#555" stroke-width="0.9"/>
<circle cx="584.3" cy="146.7" r="2.2" fill="#b9b9b9" stroke="#555" stroke-width="0.9"/>
<circle cx="598.7" cy="155" r="2.2" fill="#b9b9b9" stroke="#555" stroke-width="0.9"/>
<circle cx="599.1" cy="160.8" r="2.2" fill="#b9b9b9" stroke="#555" stroke-width="0.9"/>
<circle cx="602.9" cy="86.2" r="2.2" fill="#b9b9b9" stroke="#555" stroke-width="0.9"/>
<circle cx="622.7" cy="88.1" r="2.2" fill="#b9b9b9" stroke="#555" stroke-width="0.9"/>
<circle cx="629.4" cy="95.8" r="2.2" fill="#b9b9b9" stroke="#555" stroke-width="0.9"/>
<circle cx="614.8" cy="99.8" r="2.2" fill="#b9b9b9" stroke="#555" stroke-width="0.9"/>
<circle cx="604.2" cy="103.1" r="2.2" fill="#b9b9b9" stroke="#555" stroke-width="0.9"/>
<circle cx="604.2" cy="107.5" r="2.2" fill="#b9b9b9" stroke="#555" stroke-width="0.9"/>
<circle cx="626" cy="109.8" r="2.2" fill="#b9b9b9" stroke="#555" stroke-width="0.9"/>
<circle cx="648.7" cy="107.5" r="2.2" fill="#b9b9b9" stroke="#555" stroke-width="0.9"/>
<circle cx="605.8" cy="118.5" r="2.2" fill="#b9b9b9" stroke="#555" stroke-width="0.9"/>
<circle cx="633.3" cy="119.8" r="2.2" fill="#b9b9b9" stroke="#555" stroke-width="0.9"/>
<circle cx="665.4" cy="121.7" r="2.2" fill="#b9b9b9" stroke="#555" stroke-width="0.9"/>
<circle cx="615" cy="130.4" r="2.2" fill="#b9b9b9" stroke="#555" stroke-width="0.9"/>
<circle cx="616.9" cy="130.4" r="2.2" fill="#b9b9b9" stroke="#555" stroke-width="0.9"/>
<circle cx="633.3" cy="134.8" r="2.2" fill="#b9b9b9" stroke="#555" stroke-width="0.9"/>
<line x1="524.4" y1="81.2" x2="676.8" y2="81.8" stroke="#1a1a1a" stroke-width="1.1"/>
<polyline points="542.30,63.58 544.35,64.11 546.40,64.63 548.45,65.15 550.51,65.66 552.56,66.17 554.61,66.68 556.66,67.18 558.71,67.67 560.76,68.16 562.82,68.63 564.87,69.10 566.92,69.56 568.97,70.01 571.02,70.45 573.07,70.88 575.13,71.28 577.18,71.68 579.23,72.05 581.28,72.40 583.33,72.73 585.38,73.03 587.44,73.30 589.49,73.54 591.54,73.75 593.59,73.92 595.64,74.04 597.69,74.13 599.75,74.17 601.80,74.16 603.85,74.11 605.90,74.02 607.95,73.89 610.00,73.72 612.06,73.51 614.11,73.27 616.16,72.99 618.21,72.69 620.26,72.37 622.31,72.02 624.37,71.65 626.42,71.26 628.47,70.86 630.52,70.45 632.57,70.02 634.62,69.58 636.68,69.13 638.73,68.67 640.78,68.20 642.83,67.73 644.88,67.25 646.93,66.76 648.99,66.27 651.04,65.78 653.09,65.28 655.14,64.77 657.19,64.27 659.25,63.75 661.30,63.24 663.35,62.72 665.40,62.20" fill="none" stroke="#3028b0" stroke-width="1.4" stroke-dasharray="4.6 4.6"/>
<polyline points="542.30,98.96 544.35,98.45 546.40,97.94 548.45,97.44 550.51,96.94 552.56,96.45 554.61,95.96 556.66,95.48 558.71,95.00 560.76,94.53 562.82,94.07 564.87,93.62 566.92,93.17 568.97,92.74 571.02,92.32 573.07,91.91 575.13,91.51 577.18,91.14 579.23,90.78 581.28,90.45 583.33,90.13 585.38,89.85 587.44,89.59 589.49,89.37 591.54,89.18 593.59,89.03 595.64,88.92 597.69,88.85 599.75,88.83 601.80,88.85 603.85,88.91 605.90,89.02 607.95,89.17 610.00,89.36 612.06,89.58 614.11,89.84 616.16,90.13 618.21,90.45 620.26,90.79 622.31,91.15 624.37,91.54 626.42,91.94 628.47,92.36 630.52,92.79 632.57,93.23 634.62,93.69 636.68,94.15 638.73,94.63 640.78,95.11 642.83,95.60 644.88,96.10 646.93,96.60 648.99,97.11 651.04,97.62 653.09,98.14 655.14,98.66 657.19,99.18 659.25,99.71 661.30,100.24 663.35,100.77 665.40,101.31" fill="none" stroke="#3028b0" stroke-width="1.4" stroke-dasharray="4.6 4.6"/>
<text x="465.60" y="16.80" font-size="15.5" text-anchor="start" font-family="Liberation Sans"  fill="#222" letter-spacing="1.0">e)</text>
<text x="597.60" y="202.10" font-size="11" text-anchor="middle" font-family="Liberation Sans"  fill="#222" >Alpha Power&#160;&#160;Pre-test</text>
<text x="601.90" y="213.80" font-size="11" text-anchor="middle" font-family="Liberation Sans"  fill="#222" >Score</text>
<text transform="translate(478.50,85.65) rotate(-90)" font-size="11" text-anchor="middle" font-family="Liberation Sans" fill="#222">Self-efficacy Pre-test</text>
<text transform="translate(490.00,84.60) rotate(-90)" font-size="11" text-anchor="middle" font-family="Liberation Sans" fill="#222">Score</text>
<text transform="translate(640.50,141.60) scale(0.955,1)" font-size="10.5" text-anchor="start" font-family="Liberation Serif" font-style="italic" fill="#222" >r = -0.004</text>
<text transform="translate(640.50,153.90) scale(0.955,1)" font-size="10.5" text-anchor="start" font-family="Liberation Serif" font-style="italic" fill="#222" >p = 0.972</text>
<line x1="50.5" y1="242.5" x2="50.5" y2="390.4" stroke="#c2c2c2" stroke-width="1"/>
<line x1="46.0" y1="390.4" x2="50.5" y2="390.4" stroke="#8e8e8e" stroke-width="1"/>
<text x="42.30" y="393.70" font-size="9.4" text-anchor="end" font-family="Liberation Sans"  fill="#222" >30</text>
<line x1="46.0" y1="369.27" x2="50.5" y2="369.27" stroke="#8e8e8e" stroke-width="1"/>
<text x="42.30" y="372.57" font-size="9.4" text-anchor="end" font-family="Liberation Sans"  fill="#222" >40</text>
<line x1="46.0" y1="348.14" x2="50.5" y2="348.14" stroke="#8e8e8e" stroke-width="1"/>
<text x="42.30" y="351.44" font-size="9.4" text-anchor="end" font-family="Liberation Sans"  fill="#222" >50</text>
<line x1="46.0" y1="327.01" x2="50.5" y2="327.01" stroke="#8e8e8e" stroke-width="1"/>
<text x="42.30" y="330.31" font-size="9.4" text-anchor="end" font-family="Liberation Sans"  fill="#222" >60</text>
<line x1="46.0" y1="305.89" x2="50.5" y2="305.89" stroke="#8e8e8e" stroke-width="1"/>
<text x="42.30" y="309.19" font-size="9.4" text-anchor="end" font-family="Liberation Sans"  fill="#222" >70</text>
<line x1="46.0" y1="284.76" x2="50.5" y2="284.76" stroke="#8e8e8e" stroke-width="1"/>
<text x="42.30" y="288.06" font-size="9.4" text-anchor="end" font-family="Liberation Sans"  fill="#222" >80</text>
<line x1="46.0" y1="263.63" x2="50.5" y2="263.63" stroke="#8e8e8e" stroke-width="1"/>
<text x="42.30" y="266.93" font-size="9.4" text-anchor="end" font-family="Liberation Sans"  fill="#222" >90</text>
<line x1="46.0" y1="242.5" x2="50.5" y2="242.5" stroke="#8e8e8e" stroke-width="1"/>
<text x="42.30" y="245.80" font-size="9.4" text-anchor="end" font-family="Liberation Sans"  fill="#222" >100</text>
<line x1="57.4" y1="397.4" x2="201.6" y2="397.4" stroke="#c2c2c2" stroke-width="1"/>
<line x1="57.4" y1="397.4" x2="57.4" y2="402.4" stroke="#8e8e8e" stroke-width="1"/>
<text x="57.40" y="413.20" font-size="9.4" text-anchor="middle" font-family="Liberation Sans"  fill="#222" >0</text>
<line x1="81.43" y1="397.4" x2="81.43" y2="402.4" stroke="#8e8e8e" stroke-width="1"/>
<text x="81.43" y="413.20" font-size="9.4" text-anchor="middle" font-family="Liberation Sans"  fill="#222" >20</text>
<line x1="105.47" y1="397.4" x2="105.47" y2="402.4" stroke="#8e8e8e" stroke-width="1"/>
<text x="105.47" y="413.20" font-size="9.4" text-anchor="middle" font-family="Liberation Sans"  fill="#222" >40</text>
<line x1="129.5" y1="397.4" x2="129.5" y2="402.4" stroke="#8e8e8e" stroke-width="1"/>
<text x="129.50" y="413.20" font-size="9.4" text-anchor="middle" font-family="Liberation Sans"  fill="#222" >60</text>
<line x1="153.53" y1="397.4" x2="153.53" y2="402.4" stroke="#8e8e8e" stroke-width="1"/>
<text x="153.53" y="413.20" font-size="9.4" text-anchor="middle" font-family="Liberation Sans"  fill="#222" >80</text>
<line x1="177.57" y1="397.4" x2="177.57" y2="402.4" stroke="#8e8e8e" stroke-width="1"/>
<text x="177.57" y="413.20" font-size="9.4" text-anchor="middle" font-family="Liberation Sans"  fill="#222" >100</text>
<line x1="201.6" y1="397.4" x2="201.6" y2="402.4" stroke="#8e8e8e" stroke-width="1"/>
<text x="201.60" y="413.20" font-size="9.4" text-anchor="middle" font-family="Liberation Sans"  fill="#222" >120</text>
<circle cx="129.8" cy="255.5" r="2.2" fill="#b9b9b9" stroke="#555" stroke-width="0.9"/>
<circle cx="128.8" cy="258.3" r="2.2" fill="#b9b9b9" stroke="#555" stroke-width="0.9"/>
<circle cx="108.1" cy="263.3" r="2.2" fill="#b9b9b9" stroke="#555" stroke-width="0.9"/>
<circle cx="117.3" cy="265.7" r="2.2" fill="#b9b9b9" stroke="#555" stroke-width="0.9"/>
<circle cx="130.8" cy="267" r="2.2" fill="#b9b9b9" stroke="#555" stroke-width="0.9"/>
<circle cx="132.7" cy="268.5" r="2.2" fill="#b9b9b9" stroke="#555" stroke-width="0.9"/>
<circle cx="128.8" cy="272" r="2.2" fill="#b9b9b9" stroke="#555" stroke-width="0.9"/>
<circle cx="126" cy="275.3" r="2.2" fill="#b9b9b9" stroke="#555" stroke-width="0.9"/>
<circle cx="128.8" cy="275.3" r="2.2" fill="#b9b9b9" stroke="#555" stroke-width="0.9"/>
<circle cx="116" cy="275.3" r="2.2" fill="#b9b9b9" stroke="#555" stroke-width="0.9"/>
<circle cx="122.7" cy="282" r="2.2" fill="#b9b9b9" stroke="#555" stroke-width="0.9"/>
<circle cx="96.2" cy="289.1" r="2.2" fill="#b9b9b9" stroke="#555" stroke-width="0.9"/>
<circle cx="121.2" cy="294.1" r="2.2" fill="#b9b9b9" stroke="#555" stroke-width="0.9"/>
<circle cx="127.9" cy="293.9" r="2.2" fill="#b9b9b9" stroke="#555" stroke-width="0.9"/>
<circle cx="130.8" cy="293.9" r="2.2" fill="#b9b9b9" stroke="#555" stroke-width="0.9"/>
<circle cx="133.7" cy="292.6" r="2.2" fill="#b9b9b9" stroke="#555" stroke-width="0.9"/>
<circle cx="105.4" cy="298.7" r="2.2" fill="#b9b9b9" stroke="#555" stroke-width="0.9"/>
<circle cx="119.6" cy="306" r="2.2" fill="#b9b9b9" stroke="#555" stroke-width="0.9"/>
<circle cx="122.5" cy="305.5" r="2.2" fill="#b9b9b9" stroke="#555" stroke-width="0.9"/>
<circle cx="126" cy="309.9" r="2.2" fill="#b9b9b9" stroke="#555" stroke-width="0.9"/>
<circle cx="116.3" cy="311.8" r="2.2" fill="#b9b9b9" stroke="#555" stroke-width="0.9"/>
<circle cx="103.8" cy="313.2" r="2.2" fill="#b9b9b9" stroke="#555" stroke-width="0.9"/>
<circle cx="115.4" cy="314.3" r="2.2" fill="#b9b9b9" stroke="#555" stroke-width="0.9"/>
<circle cx="149.2" cy="243.5" r="2.2" fill="#b9b9b9" stroke="#555" stroke-width="0.9"/>
<circle cx="150.2" cy="245.5" r="2.2" fill="#b9b9b9" stroke="#555" stroke-width="0.9"/>
<circle cx="159.4" cy="244.5" r="2.2" fill="#b9b9b9" stroke="#555" stroke-width="0.9"/>
<circle cx="167.5" cy="249.9" r="2.2" fill="#b9b9b9" stroke="#555" stroke-width="0.9"/>
<circle cx="139.2" cy="257" r="2.2" fill="#b9b9b9" stroke="#555" stroke-width="0.9"/>
<circle cx="145" cy="259.5" r="2.2" fill="#b9b9b9" stroke="#555" stroke-width="0.9"/>
<circle cx="143.5" cy="260.8" r="2.2" fill="#b9b9b9" stroke="#555" stroke-width="0.9"/>
<circle cx="151.2" cy="263.3" r="2.2" fill="#b9b9b9" stroke="#555" stroke-width="0.9"/>
<circle cx="169.8" cy="258.9" r="2.2" fill="#b9b9b9" stroke="#555" stroke-width="0.9"/>
<circle cx="139.2" cy="275.8" r="2.2" fill="#b9b9b9" stroke="#555" stroke-width="0.9"/>
<circle cx="157.9" cy="274.7" r="2.2" fill="#b9b9b9" stroke="#555" stroke-width="0.9"/>
<circle cx="162.1" cy="275.8" r="2.2" fill="#b9b9b9" stroke="#555" stroke-width="0.9"/>
<circle cx="177.1" cy="279.7" r="2.2" fill="#b9b9b9" stroke="#555" stroke-width="0.9"/>
<circle cx="147.7" cy="282" r="2.2" fill="#b9b9b9" stroke="#555" stroke-width="0.9"/>
<circle cx="145.8" cy="284.9" r="2.2" fill="#b9b9b9" stroke="#555" stroke-width="0.9"/>
<circle cx="184.4" cy="287.4" r="2.2" fill="#b9b9b9" stroke="#555" stroke-width="0.9"/>
<circle cx="191.9" cy="286.2" r="2.2" fill="#b9b9b9" stroke="#555" stroke-width="0.9"/>
<circle cx="158.5" cy="292" r="2.2" fill="#b9b9b9" stroke="#555" stroke-width="0.9"/>
<circle cx="164" cy="292" r="2.2" fill="#b9b9b9" stroke="#555" stroke-width="0.9"/>
<circle cx="174.6" cy="296.8" r="2.2" fill="#b9b9b9" stroke="#555" stroke-width="0.9"/>
<circle cx="181.9" cy="295.8" r="2.2" fill="#b9b9b9" stroke="#555" stroke-width="0.9"/>
<circle cx="137.7" cy="300.8" r="2.2" fill="#b9b9b9" stroke="#555" stroke-width="0.9"/>
<circle cx="138.7" cy="301.6" r="2.2" fill="#b9b9b9" stroke="#555" stroke-width="0.9"/>
<circle cx="143.5" cy="303.5" r="2.2" fill="#b9b9b9" stroke="#555" stroke-width="0.9"/>
<circle cx="149.2" cy="305.5" r="2.2" fill="#b9b9b9" stroke="#555" stroke-width="0.9"/>
<circle cx="172.9" cy="302.6" r="2.2" fill="#b9b9b9" stroke="#555" stroke-width="0.9"/>
<circle cx="150.8" cy="311.8" r="2.2" fill="#b9b9b9" stroke="#555" stroke-width="0.9"/>
<circle cx="152.7" cy="313.7" r="2.2" fill="#b9b9b9" stroke="#555" stroke-width="0.9"/>
<circle cx="159.4" cy="311.8" r="2.2" fill="#b9b9b9" stroke="#555" stroke-width="0.9"/>
<circle cx="161.7" cy="313.7" r="2.2" fill="#b9b9b9" stroke="#555" stroke-width="0.9"/>
<circle cx="144.4" cy="315.7" r="2.2" fill="#b9b9b9" stroke="#555" stroke-width="0.9"/>
<circle cx="118.3" cy="321.6" r="2.2" fill="#b9b9b9" stroke="#555" stroke-width="0.9"/>
<circle cx="126.5" cy="319.1" r="2.2" fill="#b9b9b9" stroke="#555" stroke-width="0.9"/>
<circle cx="84" cy="335.1" r="2.2" fill="#b9b9b9" stroke="#555" stroke-width="0.9"/>
<circle cx="77.5" cy="340.5" r="2.2" fill="#b9b9b9" stroke="#555" stroke-width="0.9"/>
<circle cx="87.5" cy="342.8" r="2.2" fill="#b9b9b9" stroke="#555" stroke-width="0.9"/>
<circle cx="128.5" cy="347" r="2.2" fill="#b9b9b9" stroke="#555" stroke-width="0.9"/>
<circle cx="124.4" cy="351" r="2.2" fill="#b9b9b9" stroke="#555" stroke-width="0.9"/>
<circle cx="97.7" cy="358.2" r="2.2" fill="#b9b9b9" stroke="#555" stroke-width="0.9"/>
<circle cx="106.2" cy="361" r="2.2" fill="#b9b9b9" stroke="#555" stroke-width="0.9"/>
<circle cx="98.5" cy="365.5" r="2.2" fill="#b9b9b9" stroke="#555" stroke-width="0.9"/>
<circle cx="107.3" cy="366.8" r="2.2" fill="#b9b9b9" stroke="#555" stroke-width="0.9"/>
<circle cx="125.4" cy="366.8" r="2.2" fill="#b9b9b9" stroke="#555" stroke-width="0.9"/>
<circle cx="122.5" cy="369.7" r="2.2" fill="#b9b9b9" stroke="#555" stroke-width="0.9"/>
<circle cx="96.5" cy="373" r="2.2" fill="#b9b9b9" stroke="#555" stroke-width="0.9"/>
<circle cx="86.9" cy="378.3" r="2.2" fill="#b9b9b9" stroke="#555" stroke-width="0.9"/>
<circle cx="139.6" cy="320.1" r="2.2" fill="#b9b9b9" stroke="#555" stroke-width="0.9"/>
<circle cx="146.3" cy="329.3" r="2.2" fill="#b9b9b9" stroke="#555" stroke-width="0.9"/>
<circle cx="147.7" cy="334.5" r="2.2" fill="#b9b9b9" stroke="#555" stroke-width="0.9"/>
<circle cx="144.4" cy="348.2" r="2.2" fill="#b9b9b9" stroke="#555" stroke-width="0.9"/>
<circle cx="143.1" cy="350.5" r="2.2" fill="#b9b9b9" stroke="#555" stroke-width="0.9"/>
<circle cx="144.4" cy="355.8" r="2.2" fill="#b9b9b9" stroke="#555" stroke-width="0.9"/>
<circle cx="165" cy="355.3" r="2.2" fill="#b9b9b9" stroke="#555" stroke-width="0.9"/>
<circle cx="143.8" cy="380.3" r="2.2" fill="#b9b9b9" stroke="#555" stroke-width="0.9"/>
<line x1="57.4" y1="348.6" x2="201.6" y2="267.6" stroke="#1a1a1a" stroke-width="1.1"/>
<polyline points="77.50,318.01 79.41,317.48 81.31,316.93 83.22,316.39 85.13,315.84 87.03,315.29 88.94,314.74 90.85,314.18 92.75,313.61 94.66,313.04 96.57,312.46 98.47,311.88 100.38,311.29 102.29,310.69 104.19,310.08 106.10,309.46 108.01,308.83 109.91,308.18 111.82,307.52 113.73,306.84 115.63,306.15 117.54,305.43 119.45,304.69 121.35,303.93 123.26,303.14 125.17,302.31 127.07,301.45 128.98,300.55 130.89,299.61 132.79,298.63 134.70,297.61 136.61,296.54 138.51,295.43 140.42,294.28 142.33,293.08 144.23,291.84 146.14,290.56 148.05,289.25 149.95,287.91 151.86,286.54 153.77,285.14 155.67,283.71 157.58,282.27 159.49,280.81 161.39,279.33 163.30,277.83 165.21,276.32 167.11,274.80 169.02,273.27 170.93,271.73 172.83,270.18 174.74,268.63 176.65,267.06 178.55,265.49 180.46,263.92 182.37,262.33 184.27,260.75 186.18,259.16 188.09,257.57 189.99,255.97 191.90,254.37" fill="none" stroke="#3028b0" stroke-width="1.4" stroke-dasharray="4.6 4.6"/>
<polyline points="77.50,356.60 79.41,355.00 81.31,353.40 83.22,351.80 85.13,350.21 87.03,348.62 88.94,347.03 90.85,345.45 92.75,343.87 94.66,342.30 96.57,340.74 98.47,339.18 100.38,337.63 102.29,336.09 104.19,334.55 106.10,333.03 108.01,331.52 109.91,330.02 111.82,328.54 113.73,327.08 115.63,325.63 117.54,324.20 119.45,322.80 121.35,321.42 123.26,320.07 125.17,318.76 127.07,317.48 128.98,316.23 130.89,315.03 132.79,313.87 134.70,312.75 136.61,311.67 138.51,310.64 140.42,309.66 142.33,308.71 144.23,307.81 146.14,306.94 148.05,306.11 149.95,305.31 151.86,304.54 153.77,303.80 155.67,303.08 157.58,302.38 159.49,301.70 161.39,301.04 163.30,300.40 165.21,299.76 167.11,299.14 169.02,298.53 170.93,297.93 172.83,297.34 174.74,296.75 176.65,296.17 178.55,295.60 180.46,295.03 182.37,294.47 184.27,293.92 186.18,293.36 188.09,292.82 189.99,292.27 191.90,291.73" fill="none" stroke="#3028b0" stroke-width="1.4" stroke-dasharray="4.6 4.6"/>
<text x="5.20" y="244.00" font-size="15.5" text-anchor="start" font-family="Liberation Sans"  fill="#222" letter-spacing="0.5">b)</text>
<text x="129.55" y="429.60" font-size="10.8" text-anchor="middle" font-family="Liberation Sans"  fill="#222" >Self-efficacy Post-test</text>
<text x="131.20" y="441.80" font-size="11" text-anchor="middle" font-family="Liberation Sans"  fill="#222" >Score</text>
<text transform="translate(9.00,314.80) rotate(-90)" font-size="10.5" text-anchor="middle" font-family="Liberation Sans" fill="#222">Math Post-test</text>
<text transform="translate(19.60,313.90) rotate(-90)" font-size="11" text-anchor="middle" font-family="Liberation Sans" fill="#222">Score</text>
<text transform="translate(173.80,375.00) scale(0.955,1)" font-size="10.5" text-anchor="start" font-family="Liberation Serif" font-style="italic" fill="#222" >r = 0.386***</text>
<text transform="translate(173.80,387.20) scale(0.955,1)" font-size="10.5" text-anchor="start" font-family="Liberation Serif" font-style="italic" fill="#222" >p &lt; 0.001</text>
<line x1="285.5" y1="242.5" x2="285.5" y2="390.4" stroke="#c2c2c2" stroke-width="1"/>
<line x1="281.0" y1="390.4" x2="285.5" y2="390.4" stroke="#8e8e8e" stroke-width="1"/>
<text x="277.30" y="393.70" font-size="9.4" text-anchor="end" font-family="Liberation Sans"  fill="#222" >30</text>
<line x1="281.0" y1="369.27" x2="285.5" y2="369.27" stroke="#8e8e8e" stroke-width="1"/>
<text x="277.30" y="372.57" font-size="9.4" text-anchor="end" font-family="Liberation Sans"  fill="#222" >40</text>
<line x1="281.0" y1="348.14" x2="285.5" y2="348.14" stroke="#8e8e8e" stroke-width="1"/>
<text x="277.30" y="351.44" font-size="9.4" text-anchor="end" font-family="Liberation Sans"  fill="#222" >50</text>
<line x1="281.0" y1="327.01" x2="285.5" y2="327.01" stroke="#8e8e8e" stroke-width="1"/>
<text x="277.30" y="330.31" font-size="9.4" text-anchor="end" font-family="Liberation Sans"  fill="#222" >60</text>
<line x1="281.0" y1="305.89" x2="285.5" y2="305.89" stroke="#8e8e8e" stroke-width="1"/>
<text x="277.30" y="309.19" font-size="9.4" text-anchor="end" font-family="Liberation Sans"  fill="#222" >70</text>
<line x1="281.0" y1="284.76" x2="285.5" y2="284.76" stroke="#8e8e8e" stroke-width="1"/>
<text x="277.30" y="288.06" font-size="9.4" text-anchor="end" font-family="Liberation Sans"  fill="#222" >80</text>
<line x1="281.0" y1="263.63" x2="285.5" y2="263.63" stroke="#8e8e8e" stroke-width="1"/>
<text x="277.30" y="266.93" font-size="9.4" text-anchor="end" font-family="Liberation Sans"  fill="#222" >90</text>
<line x1="281.0" y1="242.5" x2="285.5" y2="242.5" stroke="#8e8e8e" stroke-width="1"/>
<text x="277.30" y="245.80" font-size="9.4" text-anchor="end" font-family="Liberation Sans"  fill="#222" >100</text>
<line x1="292.8" y1="397.4" x2="437.2" y2="397.4" stroke="#c2c2c2" stroke-width="1"/>
<line x1="292.8" y1="397.4" x2="292.8" y2="402.4" stroke="#8e8e8e" stroke-width="1"/>
<text x="292.80" y="413.30" font-size="9.4" text-anchor="middle" font-family="Liberation Sans"  fill="#222" >-<tspan dx="-0.6">7</tspan></text>
<line x1="313.43" y1="397.4" x2="313.43" y2="402.4" stroke="#8e8e8e" stroke-width="1"/>
<text x="313.43" y="413.30" font-size="9.4" text-anchor="middle" font-family="Liberation Sans"  fill="#222" >-<tspan dx="-0.6">6</tspan></text>
<line x1="334.06" y1="397.4" x2="334.06" y2="402.4" stroke="#8e8e8e" stroke-width="1"/>
<text x="334.06" y="413.30" font-size="9.4" text-anchor="middle" font-family="Liberation Sans"  fill="#222" >-<tspan dx="-0.6">5</tspan></text>
<line x1="354.69" y1="397.4" x2="354.69" y2="402.4" stroke="#8e8e8e" stroke-width="1"/>
<text x="354.69" y="413.30" font-size="9.4" text-anchor="middle" font-family="Liberation Sans"  fill="#222" >-<tspan dx="-0.6">4</tspan></text>
<line x1="375.31" y1="397.4" x2="375.31" y2="402.4" stroke="#8e8e8e" stroke-width="1"/>
<text x="375.31" y="413.30" font-size="9.4" text-anchor="middle" font-family="Liberation Sans"  fill="#222" >-<tspan dx="-0.6">3</tspan></text>
<line x1="395.94" y1="397.4" x2="395.94" y2="402.4" stroke="#8e8e8e" stroke-width="1"/>
<text x="395.94" y="413.30" font-size="9.4" text-anchor="middle" font-family="Liberation Sans"  fill="#222" >-<tspan dx="-0.6">2</tspan></text>
<line x1="416.57" y1="397.4" x2="416.57" y2="402.4" stroke="#8e8e8e" stroke-width="1"/>
<text x="416.57" y="413.30" font-size="9.4" text-anchor="middle" font-family="Liberation Sans"  fill="#222" >-<tspan dx="-0.6">1</tspan></text>
<line x1="437.2" y1="397.4" x2="437.2" y2="402.4" stroke="#8e8e8e" stroke-width="1"/>
<text x="437.20" y="413.30" font-size="9.4" text-anchor="middle" font-family="Liberation Sans"  fill="#222" >0</text>
<circle cx="310.4" cy="243.9" r="2.2" fill="#b9b9b9" stroke="#555" stroke-width="0.9"/>
<circle cx="355.2" cy="245.1" r="2.2" fill="#b9b9b9" stroke="#555" stroke-width="0.9"/>
<circle cx="342.3" cy="249.9" r="2.2" fill="#b9b9b9" stroke="#555" stroke-width="0.9"/>
<circle cx="356.2" cy="257.4" r="2.2" fill="#b9b9b9" stroke="#555" stroke-width="0.9"/>
<circle cx="360.6" cy="255.5" r="2.2" fill="#b9b9b9" stroke="#555" stroke-width="0.9"/>
<circle cx="355.2" cy="263.7" r="2.2" fill="#b9b9b9" stroke="#555" stroke-width="0.9"/>
<circle cx="346.9" cy="267" r="2.2" fill="#b9b9b9" stroke="#555" stroke-width="0.9"/>
<circle cx="339.2" cy="272" r="2.2" fill="#b9b9b9" stroke="#555" stroke-width="0.9"/>
<circle cx="329.2" cy="275.3" r="2.2" fill="#b9b9b9" stroke="#555" stroke-width="0.9"/>
<circle cx="360.4" cy="275.3" r="2.2" fill="#b9b9b9" stroke="#555" stroke-width="0.9"/>
<circle cx="364.8" cy="275.3" r="2.2" fill="#b9b9b9" stroke="#555" stroke-width="0.9"/>
<circle cx="344.2" cy="282" r="2.2" fill="#b9b9b9" stroke="#555" stroke-width="0.9"/>
<circle cx="339.8" cy="293.5" r="2.2" fill="#b9b9b9" stroke="#555" stroke-width="0.9"/>
<circle cx="360" cy="295.8" r="2.2" fill="#b9b9b9" stroke="#555" stroke-width="0.9"/>
<circle cx="369.6" cy="292" r="2.2" fill="#b9b9b9" stroke="#555" stroke-width="0.9"/>
<circle cx="369.6" cy="294.5" r="2.2" fill="#b9b9b9" stroke="#555" stroke-width="0.9"/>
<circle cx="334" cy="301.2" r="2.2" fill="#b9b9b9" stroke="#555" stroke-width="0.9"/>
<circle cx="356.2" cy="300.8" r="2.2" fill="#b9b9b9" stroke="#555" stroke-width="0.9"/>
<circle cx="357.1" cy="305.1" r="2.2" fill="#b9b9b9" stroke="#555" stroke-width="0.9"/>
<circle cx="342.7" cy="309.9" r="2.2" fill="#b9b9b9" stroke="#555" stroke-width="0.9"/>
<circle cx="348.8" cy="311.8" r="2.2" fill="#b9b9b9" stroke="#555" stroke-width="0.9"/>
<circle cx="329.6" cy="311.8" r="2.2" fill="#b9b9b9" stroke="#555" stroke-width="0.9"/>
<circle cx="319.6" cy="314.3" r="2.2" fill="#b9b9b9" stroke="#555" stroke-width="0.9"/>
<circle cx="327.7" cy="315.7" r="2.2" fill="#b9b9b9" stroke="#555" stroke-width="0.9"/>
<circle cx="369.3" cy="312.8" r="2.2" fill="#b9b9b9" stroke="#555" stroke-width="0.9"/>
<circle cx="391.9" cy="244.9" r="2.2" fill="#b9b9b9" stroke="#555" stroke-width="0.9"/>
<circle cx="380.4" cy="259.9" r="2.2" fill="#b9b9b9" stroke="#555" stroke-width="0.9"/>
<circle cx="382.7" cy="259.3" r="2.2" fill="#b9b9b9" stroke="#555" stroke-width="0.9"/>
<circle cx="381.9" cy="261.2" r="2.2" fill="#b9b9b9" stroke="#555" stroke-width="0.9"/>
<circle cx="391.5" cy="258" r="2.2" fill="#b9b9b9" stroke="#555" stroke-width="0.9"/>
<circle cx="394.8" cy="263.3" r="2.2" fill="#b9b9b9" stroke="#555" stroke-width="0.9"/>
<circle cx="374.2" cy="265.7" r="2.2" fill="#b9b9b9" stroke="#555" stroke-width="0.9"/>
<circle cx="377.5" cy="268.9" r="2.2" fill="#b9b9b9" stroke="#555" stroke-width="0.9"/>
<circle cx="372.3" cy="275.8" r="2.2" fill="#b9b9b9" stroke="#555" stroke-width="0.9"/>
<circle cx="376.5" cy="276.2" r="2.2" fill="#b9b9b9" stroke="#555" stroke-width="0.9"/>
<circle cx="379.4" cy="275.8" r="2.2" fill="#b9b9b9" stroke="#555" stroke-width="0.9"/>
<circle cx="372.3" cy="282.4" r="2.2" fill="#b9b9b9" stroke="#555" stroke-width="0.9"/>
<circle cx="398.7" cy="279.7" r="2.2" fill="#b9b9b9" stroke="#555" stroke-width="0.9"/>
<circle cx="381.3" cy="286.2" r="2.2" fill="#b9b9b9" stroke="#555" stroke-width="0.9"/>
<circle cx="382.9" cy="287.8" r="2.2" fill="#b9b9b9" stroke="#555" stroke-width="0.9"/>
<circle cx="390.4" cy="285.5" r="2.2" fill="#b9b9b9" stroke="#555" stroke-width="0.9"/>
<circle cx="388.5" cy="289.1" r="2.2" fill="#b9b9b9" stroke="#555" stroke-width="0.9"/>
<circle cx="381.3" cy="292.6" r="2.2" fill="#b9b9b9" stroke="#555" stroke-width="0.9"/>
<circle cx="383.3" cy="294.5" r="2.2" fill="#b9b9b9" stroke="#555" stroke-width="0.9"/>
<circle cx="384.6" cy="298.9" r="2.2" fill="#b9b9b9" stroke="#555" stroke-width="0.9"/>
<circle cx="406.3" cy="292" r="2.2" fill="#b9b9b9" stroke="#555" stroke-width="0.9"/>
<circle cx="419.4" cy="293.9" r="2.2" fill="#b9b9b9" stroke="#555" stroke-width="0.9"/>
<circle cx="402.5" cy="297" r="2.2" fill="#b9b9b9" stroke="#555" stroke-width="0.9"/>
<circle cx="416.5" cy="301.6" r="2.2" fill="#b9b9b9" stroke="#555" stroke-width="0.9"/>
<circle cx="374.2" cy="305.7" r="2.2" fill="#b9b9b9" stroke="#555" stroke-width="0.9"/>
<circle cx="382.7" cy="304.7" r="2.2" fill="#b9b9b9" stroke="#555" stroke-width="0.9"/>
<circle cx="394.2" cy="303.5" r="2.2" fill="#b9b9b9" stroke="#555" stroke-width="0.9"/>
<circle cx="398.7" cy="302.8" r="2.2" fill="#b9b9b9" stroke="#555" stroke-width="0.9"/>
<circle cx="370.8" cy="314.5" r="2.2" fill="#b9b9b9" stroke="#555" stroke-width="0.9"/>
<circle cx="386.7" cy="312.4" r="2.2" fill="#b9b9b9" stroke="#555" stroke-width="0.9"/>
<circle cx="399" cy="314.7" r="2.2" fill="#b9b9b9" stroke="#555" stroke-width="0.9"/>
<circle cx="337.3" cy="319.1" r="2.2" fill="#b9b9b9" stroke="#555" stroke-width="0.9"/>
<circle cx="352.7" cy="329.3" r="2.2" fill="#b9b9b9" stroke="#555" stroke-width="0.9"/>
<circle cx="353.1" cy="335.1" r="2.2" fill="#b9b9b9" stroke="#555" stroke-width="0.9"/>
<circle cx="361.9" cy="334.1" r="2.2" fill="#b9b9b9" stroke="#555" stroke-width="0.9"/>
<circle cx="345" cy="340.8" r="2.2" fill="#b9b9b9" stroke="#555" stroke-width="0.9"/>
<circle cx="366.2" cy="342.8" r="2.2" fill="#b9b9b9" stroke="#555" stroke-width="0.9"/>
<circle cx="324" cy="347" r="2.2" fill="#b9b9b9" stroke="#555" stroke-width="0.9"/>
<circle cx="328.3" cy="348.2" r="2.2" fill="#b9b9b9" stroke="#555" stroke-width="0.9"/>
<circle cx="351.3" cy="351" r="2.2" fill="#b9b9b9" stroke="#555" stroke-width="0.9"/>
<circle cx="366.7" cy="350.8" r="2.2" fill="#b9b9b9" stroke="#555" stroke-width="0.9"/>
<circle cx="336.5" cy="355.3" r="2.2" fill="#b9b9b9" stroke="#555" stroke-width="0.9"/>
<circle cx="321.9" cy="358.2" r="2.2" fill="#b9b9b9" stroke="#555" stroke-width="0.9"/>
<circle cx="355.2" cy="355.8" r="2.2" fill="#b9b9b9" stroke="#555" stroke-width="0.9"/>
<circle cx="357.5" cy="361" r="2.2" fill="#b9b9b9" stroke="#555" stroke-width="0.9"/>
<circle cx="360" cy="365.5" r="2.2" fill="#b9b9b9" stroke="#555" stroke-width="0.9"/>
<circle cx="366.2" cy="366.8" r="2.2" fill="#b9b9b9" stroke="#555" stroke-width="0.9"/>
<circle cx="366.2" cy="370.1" r="2.2" fill="#b9b9b9" stroke="#555" stroke-width="0.9"/>
<circle cx="340.4" cy="367.2" r="2.2" fill="#b9b9b9" stroke="#555" stroke-width="0.9"/>
<circle cx="349" cy="373.2" r="2.2" fill="#b9b9b9" stroke="#555" stroke-width="0.9"/>
<circle cx="302.7" cy="378.5" r="2.2" fill="#b9b9b9" stroke="#555" stroke-width="0.9"/>
<circle cx="364.8" cy="380.3" r="2.2" fill="#b9b9b9" stroke="#555" stroke-width="0.9"/>
<circle cx="378.8" cy="320.1" r="2.2" fill="#b9b9b9" stroke="#555" stroke-width="0.9"/>
<circle cx="402.5" cy="322" r="2.2" fill="#b9b9b9" stroke="#555" stroke-width="0.9"/>
<line x1="292.8" y1="335.57" x2="437.2" y2="273.4" stroke="#1a1a1a" stroke-width="1.1"/>
<polyline points="302.70,310.60 304.64,310.33 306.59,310.06 308.53,309.79 310.48,309.51 312.43,309.23 314.37,308.95 316.31,308.66 318.26,308.37 320.20,308.07 322.15,307.77 324.09,307.46 326.04,307.15 327.99,306.83 329.93,306.50 331.88,306.16 333.82,305.81 335.76,305.45 337.71,305.08 339.65,304.69 341.60,304.29 343.54,303.87 345.49,303.43 347.44,302.96 349.38,302.47 351.32,301.94 353.27,301.39 355.21,300.79 357.16,300.16 359.10,299.48 361.05,298.76 363.00,297.98 364.94,297.16 366.88,296.29 368.83,295.36 370.77,294.39 372.72,293.37 374.66,292.31 376.61,291.22 378.55,290.08 380.50,288.92 382.44,287.72 384.39,286.50 386.33,285.26 388.28,284.00 390.22,282.72 392.17,281.42 394.12,280.12 396.06,278.79 398.00,277.46 399.95,276.12 401.89,274.77 403.84,273.42 405.78,272.05 407.73,270.68 409.67,269.31 411.62,267.93 413.56,266.54 415.51,265.15 417.45,263.76 419.40,262.36" fill="none" stroke="#3028b0" stroke-width="1.4" stroke-dasharray="4.6 4.6"/>
<polyline points="302.70,352.01 304.64,350.61 306.59,349.20 308.53,347.80 310.48,346.40 312.43,345.01 314.37,343.62 316.31,342.23 318.26,340.85 320.20,339.47 322.15,338.10 324.09,336.73 326.04,335.37 327.99,334.02 329.93,332.67 331.88,331.33 333.82,330.01 335.76,328.69 337.71,327.39 339.65,326.10 341.60,324.83 343.54,323.58 345.49,322.34 347.44,321.14 349.38,319.95 351.32,318.80 353.27,317.68 355.21,316.60 357.16,315.56 359.10,314.56 361.05,313.61 363.00,312.71 364.94,311.86 366.88,311.06 368.83,310.31 370.77,309.61 372.72,308.95 374.66,308.33 376.61,307.76 378.55,307.22 380.50,306.71 382.44,306.23 384.39,305.77 386.33,305.34 388.28,304.93 390.22,304.53 392.17,304.15 394.12,303.78 396.06,303.43 398.00,303.09 399.95,302.75 401.89,302.43 403.84,302.11 405.78,301.80 407.73,301.49 409.67,301.19 411.62,300.90 413.56,300.61 415.51,300.32 417.45,300.04 419.40,299.76" fill="none" stroke="#3028b0" stroke-width="1.4" stroke-dasharray="4.6 4.6"/>
<text x="234.70" y="244.00" font-size="15.5" text-anchor="start" font-family="Liberation Sans"  fill="#222" letter-spacing="1.0">d)</text>
<text x="292.30" y="429.70" font-size="10.8" text-anchor="start" font-family="Liberation Sans"  fill="#222" >Alpha Power</text>
<text x="358.30" y="429.70" font-size="10.85" text-anchor="start" font-family="Liberation Sans"  fill="#222" >Post-test Score</text>
<text transform="translate(244.30,314.80) rotate(-90)" font-size="10.5" text-anchor="middle" font-family="Liberation Sans" fill="#222">Math Post-test</text>
<text transform="translate(254.70,314.05) rotate(-90)" font-size="11" text-anchor="middle" font-family="Liberation Sans" fill="#222">Score</text>
<text transform="translate(400.50,375.00) scale(0.955,1)" font-size="10.5" text-anchor="start" font-family="Liberation Serif" font-style="italic" fill="#222" >r = 0.295**</text>
<text transform="translate(400.50,387.20) scale(0.955,1)" font-size="10.5" text-anchor="start" font-family="Liberation Serif" font-style="italic" fill="#222" >p = 0.008</text>
<line x1="521.5" y1="239.5" x2="521.5" y2="391.5" stroke="#c2c2c2" stroke-width="1"/>
<line x1="517.0" y1="391.5" x2="521.5" y2="391.5" stroke="#8e8e8e" stroke-width="1"/>
<text x="513.30" y="394.80" font-size="9.4" text-anchor="end" font-family="Liberation Sans"  fill="#222" >0</text>
<line x1="517.0" y1="366.17" x2="521.5" y2="366.17" stroke="#8e8e8e" stroke-width="1"/>
<text x="513.30" y="369.47" font-size="9.4" text-anchor="end" font-family="Liberation Sans"  fill="#222" >20</text>
<line x1="517.0" y1="340.83" x2="521.5" y2="340.83" stroke="#8e8e8e" stroke-width="1"/>
<text x="513.30" y="344.13" font-size="9.4" text-anchor="end" font-family="Liberation Sans"  fill="#222" >40</text>
<line x1="517.0" y1="315.5" x2="521.5" y2="315.5" stroke="#8e8e8e" stroke-width="1"/>
<text x="513.30" y="318.80" font-size="9.4" text-anchor="end" font-family="Liberation Sans"  fill="#222" >60</text>
<line x1="517.0" y1="290.17" x2="521.5" y2="290.17" stroke="#8e8e8e" stroke-width="1"/>
<text x="513.30" y="293.47" font-size="9.4" text-anchor="end" font-family="Liberation Sans"  fill="#222" >80</text>
<line x1="517.0" y1="264.83" x2="521.5" y2="264.83" stroke="#8e8e8e" stroke-width="1"/>
<text x="513.30" y="268.13" font-size="9.4" text-anchor="end" font-family="Liberation Sans"  fill="#222" >100</text>
<line x1="517.0" y1="239.5" x2="521.5" y2="239.5" stroke="#8e8e8e" stroke-width="1"/>
<text x="513.30" y="242.80" font-size="9.4" text-anchor="end" font-family="Liberation Sans"  fill="#222" >120</text>
<line x1="529.3" y1="398.6" x2="677.4" y2="398.6" stroke="#c2c2c2" stroke-width="1"/>
<line x1="529.3" y1="398.6" x2="529.3" y2="403.6" stroke="#8e8e8e" stroke-width="1"/>
<text x="529.30" y="413.80" font-size="9.4" text-anchor="middle" font-family="Liberation Sans"  fill="#222" >-<tspan dx="-0.6">7</tspan></text>
<line x1="550.46" y1="398.6" x2="550.46" y2="403.6" stroke="#8e8e8e" stroke-width="1"/>
<text x="550.46" y="413.80" font-size="9.4" text-anchor="middle" font-family="Liberation Sans"  fill="#222" >-<tspan dx="-0.6">6</tspan></text>
<line x1="571.61" y1="398.6" x2="571.61" y2="403.6" stroke="#8e8e8e" stroke-width="1"/>
<text x="571.61" y="413.80" font-size="9.4" text-anchor="middle" font-family="Liberation Sans"  fill="#222" >-<tspan dx="-0.6">5</tspan></text>
<line x1="592.77" y1="398.6" x2="592.77" y2="403.6" stroke="#8e8e8e" stroke-width="1"/>
<text x="592.77" y="413.80" font-size="9.4" text-anchor="middle" font-family="Liberation Sans"  fill="#222" >-<tspan dx="-0.6">4</tspan></text>
<line x1="613.93" y1="398.6" x2="613.93" y2="403.6" stroke="#8e8e8e" stroke-width="1"/>
<text x="613.93" y="413.80" font-size="9.4" text-anchor="middle" font-family="Liberation Sans"  fill="#222" >-<tspan dx="-0.6">3</tspan></text>
<line x1="635.09" y1="398.6" x2="635.09" y2="403.6" stroke="#8e8e8e" stroke-width="1"/>
<text x="635.09" y="413.80" font-size="9.4" text-anchor="middle" font-family="Liberation Sans"  fill="#222" >-<tspan dx="-0.6">2</tspan></text>
<line x1="656.24" y1="398.6" x2="656.24" y2="403.6" stroke="#8e8e8e" stroke-width="1"/>
<text x="656.24" y="413.80" font-size="9.4" text-anchor="middle" font-family="Liberation Sans"  fill="#222" >-<tspan dx="-0.6">1</tspan></text>
<line x1="677.4" y1="398.6" x2="677.4" y2="403.6" stroke="#8e8e8e" stroke-width="1"/>
<text x="677.40" y="413.80" font-size="9.4" text-anchor="middle" font-family="Liberation Sans"  fill="#222" >0</text>
<circle cx="597.9" cy="260.3" r="2.2" fill="#b9b9b9" stroke="#555" stroke-width="0.9"/>
<circle cx="580" cy="275.3" r="2.2" fill="#b9b9b9" stroke="#555" stroke-width="0.9"/>
<circle cx="573.9" cy="277.8" r="2.2" fill="#b9b9b9" stroke="#555" stroke-width="0.9"/>
<circle cx="586.4" cy="283.3" r="2.2" fill="#b9b9b9" stroke="#555" stroke-width="0.9"/>
<circle cx="566.2" cy="285.3" r="2.2" fill="#b9b9b9" stroke="#555" stroke-width="0.9"/>
<circle cx="556.2" cy="291" r="2.2" fill="#b9b9b9" stroke="#555" stroke-width="0.9"/>
<circle cx="547" cy="294.1" r="2.2" fill="#b9b9b9" stroke="#555" stroke-width="0.9"/>
<circle cx="593.1" cy="292.2" r="2.2" fill="#b9b9b9" stroke="#555" stroke-width="0.9"/>
<circle cx="595" cy="294.1" r="2.2" fill="#b9b9b9" stroke="#555" stroke-width="0.9"/>
<circle cx="599.8" cy="295.5" r="2.2" fill="#b9b9b9" stroke="#555" stroke-width="0.9"/>
<circle cx="564.3" cy="298.9" r="2.2" fill="#b9b9b9" stroke="#555" stroke-width="0.9"/>
<circle cx="565.6" cy="299.3" r="2.2" fill="#b9b9b9" stroke="#555" stroke-width="0.9"/>
<circle cx="590.2" cy="297.4" r="2.2" fill="#b9b9b9" stroke="#555" stroke-width="0.9"/>
<circle cx="592.5" cy="299.3" r="2.2" fill="#b9b9b9" stroke="#555" stroke-width="0.9"/>
<circle cx="602.7" cy="300.3" r="2.2" fill="#b9b9b9" stroke="#555" stroke-width="0.9"/>
<circle cx="605" cy="301.2" r="2.2" fill="#b9b9b9" stroke="#555" stroke-width="0.9"/>
<circle cx="571.4" cy="306" r="2.2" fill="#b9b9b9" stroke="#555" stroke-width="0.9"/>
<circle cx="593.7" cy="305.1" r="2.2" fill="#b9b9b9" stroke="#555" stroke-width="0.9"/>
<circle cx="594.1" cy="306.6" r="2.2" fill="#b9b9b9" stroke="#555" stroke-width="0.9"/>
<circle cx="577.2" cy="310.8" r="2.2" fill="#b9b9b9" stroke="#555" stroke-width="0.9"/>
<circle cx="560.8" cy="315.7" r="2.2" fill="#b9b9b9" stroke="#555" stroke-width="0.9"/>
<circle cx="576.8" cy="315.1" r="2.2" fill="#b9b9b9" stroke="#555" stroke-width="0.9"/>
<circle cx="584.5" cy="313.7" r="2.2" fill="#b9b9b9" stroke="#555" stroke-width="0.9"/>
<circle cx="597.9" cy="314.7" r="2.2" fill="#b9b9b9" stroke="#555" stroke-width="0.9"/>
<circle cx="619.8" cy="249.3" r="2.2" fill="#b9b9b9" stroke="#555" stroke-width="0.9"/>
<circle cx="621.5" cy="257.4" r="2.2" fill="#b9b9b9" stroke="#555" stroke-width="0.9"/>
<circle cx="637.5" cy="265.1" r="2.2" fill="#b9b9b9" stroke="#555" stroke-width="0.9"/>
<circle cx="641.3" cy="267.6" r="2.2" fill="#b9b9b9" stroke="#555" stroke-width="0.9"/>
<circle cx="637.5" cy="269.5" r="2.2" fill="#b9b9b9" stroke="#555" stroke-width="0.9"/>
<circle cx="621.2" cy="272.8" r="2.2" fill="#b9b9b9" stroke="#555" stroke-width="0.9"/>
<circle cx="609.2" cy="281.6" r="2.2" fill="#b9b9b9" stroke="#555" stroke-width="0.9"/>
<circle cx="615" cy="281" r="2.2" fill="#b9b9b9" stroke="#555" stroke-width="0.9"/>
<circle cx="619.2" cy="284.5" r="2.2" fill="#b9b9b9" stroke="#555" stroke-width="0.9"/>
<circle cx="630.4" cy="283.5" r="2.2" fill="#b9b9b9" stroke="#555" stroke-width="0.9"/>
<circle cx="637.9" cy="280.1" r="2.2" fill="#b9b9b9" stroke="#555" stroke-width="0.9"/>
<circle cx="645.6" cy="279.1" r="2.2" fill="#b9b9b9" stroke="#555" stroke-width="0.9"/>
<circle cx="625" cy="293.2" r="2.2" fill="#b9b9b9" stroke="#555" stroke-width="0.9"/>
<circle cx="610.6" cy="295.8" r="2.2" fill="#b9b9b9" stroke="#555" stroke-width="0.9"/>
<circle cx="618.3" cy="298.9" r="2.2" fill="#b9b9b9" stroke="#555" stroke-width="0.9"/>
<circle cx="620.2" cy="300.3" r="2.2" fill="#b9b9b9" stroke="#555" stroke-width="0.9"/>
<circle cx="628.8" cy="298.3" r="2.2" fill="#b9b9b9" stroke="#555" stroke-width="0.9"/>
<circle cx="632.7" cy="300.3" r="2.2" fill="#b9b9b9" stroke="#555" stroke-width="0.9"/>
<circle cx="610.6" cy="304.7" r="2.2" fill="#b9b9b9" stroke="#555" stroke-width="0.9"/>
<circle cx="616.9" cy="304.1" r="2.2" fill="#b9b9b9" stroke="#555" stroke-width="0.9"/>
<circle cx="656.2" cy="305.1" r="2.2" fill="#b9b9b9" stroke="#555" stroke-width="0.9"/>
<circle cx="608.1" cy="309.3" r="2.2" fill="#b9b9b9" stroke="#555" stroke-width="0.9"/>
<circle cx="615.8" cy="311.4" r="2.2" fill="#b9b9b9" stroke="#555" stroke-width="0.9"/>
<circle cx="658.7" cy="313.7" r="2.2" fill="#b9b9b9" stroke="#555" stroke-width="0.9"/>
<circle cx="618.3" cy="315.1" r="2.2" fill="#b9b9b9" stroke="#555" stroke-width="0.9"/>
<circle cx="621.2" cy="316.2" r="2.2" fill="#b9b9b9" stroke="#555" stroke-width="0.9"/>
<circle cx="630.2" cy="315.3" r="2.2" fill="#b9b9b9" stroke="#555" stroke-width="0.9"/>
<circle cx="574.5" cy="318.7" r="2.2" fill="#b9b9b9" stroke="#555" stroke-width="0.9"/>
<circle cx="577.7" cy="319.3" r="2.2" fill="#b9b9b9" stroke="#555" stroke-width="0.9"/>
<circle cx="579.7" cy="319.3" r="2.2" fill="#b9b9b9" stroke="#555" stroke-width="0.9"/>
<circle cx="581.6" cy="322.6" r="2.2" fill="#b9b9b9" stroke="#555" stroke-width="0.9"/>
<circle cx="588.7" cy="320.7" r="2.2" fill="#b9b9b9" stroke="#555" stroke-width="0.9"/>
<circle cx="602.7" cy="318.3" r="2.2" fill="#b9b9b9" stroke="#555" stroke-width="0.9"/>
<circle cx="604.1" cy="322.6" r="2.2" fill="#b9b9b9" stroke="#555" stroke-width="0.9"/>
<circle cx="566.6" cy="328.7" r="2.2" fill="#b9b9b9" stroke="#555" stroke-width="0.9"/>
<circle cx="598.3" cy="329.9" r="2.2" fill="#b9b9b9" stroke="#555" stroke-width="0.9"/>
<circle cx="595" cy="339.9" r="2.2" fill="#b9b9b9" stroke="#555" stroke-width="0.9"/>
<circle cx="604.1" cy="338.5" r="2.2" fill="#b9b9b9" stroke="#555" stroke-width="0.9"/>
<circle cx="558.5" cy="348.5" r="2.2" fill="#b9b9b9" stroke="#555" stroke-width="0.9"/>
<circle cx="586.4" cy="349.9" r="2.2" fill="#b9b9b9" stroke="#555" stroke-width="0.9"/>
<circle cx="597.9" cy="348.2" r="2.2" fill="#b9b9b9" stroke="#555" stroke-width="0.9"/>
<circle cx="538.9" cy="360.1" r="2.2" fill="#b9b9b9" stroke="#555" stroke-width="0.9"/>
<circle cx="604.1" cy="359.1" r="2.2" fill="#b9b9b9" stroke="#555" stroke-width="0.9"/>
<circle cx="590.8" cy="363.3" r="2.2" fill="#b9b9b9" stroke="#555" stroke-width="0.9"/>
<circle cx="582.2" cy="370.1" r="2.2" fill="#b9b9b9" stroke="#555" stroke-width="0.9"/>
<circle cx="607.7" cy="323.9" r="2.2" fill="#b9b9b9" stroke="#555" stroke-width="0.9"/>
<circle cx="612.5" cy="325.1" r="2.2" fill="#b9b9b9" stroke="#555" stroke-width="0.9"/>
<circle cx="613.1" cy="327.8" r="2.2" fill="#b9b9b9" stroke="#555" stroke-width="0.9"/>
<circle cx="608.7" cy="329.9" r="2.2" fill="#b9b9b9" stroke="#555" stroke-width="0.9"/>
<circle cx="621.5" cy="322.6" r="2.2" fill="#b9b9b9" stroke="#555" stroke-width="0.9"/>
<circle cx="641.3" cy="327" r="2.2" fill="#b9b9b9" stroke="#555" stroke-width="0.9"/>
<circle cx="608.1" cy="342.2" r="2.2" fill="#b9b9b9" stroke="#555" stroke-width="0.9"/>
<circle cx="623.1" cy="340.5" r="2.2" fill="#b9b9b9" stroke="#555" stroke-width="0.9"/>
<circle cx="633.7" cy="338" r="2.2" fill="#b9b9b9" stroke="#555" stroke-width="0.9"/>
<circle cx="626.9" cy="350.1" r="2.2" fill="#b9b9b9" stroke="#555" stroke-width="0.9"/>
<line x1="529.3" y1="325.86" x2="677.4" y2="291.33" stroke="#1a1a1a" stroke-width="1.1"/>
<polyline points="538.90,308.35 540.90,308.30 542.89,308.24 544.89,308.19 546.89,308.13 548.88,308.07 550.88,308.00 552.88,307.94 554.87,307.87 556.87,307.79 558.87,307.72 560.86,307.63 562.86,307.55 564.86,307.45 566.85,307.35 568.85,307.25 570.85,307.13 572.84,307.01 574.84,306.88 576.84,306.73 578.83,306.58 580.83,306.41 582.83,306.22 584.82,306.02 586.82,305.80 588.82,305.55 590.81,305.28 592.81,304.99 594.81,304.66 596.80,304.31 598.80,303.92 600.80,303.50 602.79,303.04 604.79,302.55 606.79,302.03 608.78,301.47 610.78,300.87 612.78,300.25 614.77,299.60 616.77,298.93 618.77,298.23 620.76,297.51 622.76,296.78 624.76,296.02 626.75,295.25 628.75,294.47 630.75,293.68 632.74,292.88 634.74,292.06 636.74,291.24 638.73,290.41 640.73,289.58 642.73,288.74 644.72,287.89 646.72,287.04 648.72,286.19 650.71,285.33 652.71,284.46 654.71,283.60 656.70,282.73 658.70,281.86" fill="none" stroke="#3028b0" stroke-width="1.4" stroke-dasharray="4.6 4.6"/>
<polyline points="538.90,338.89 540.90,338.01 542.89,337.14 544.89,336.26 546.89,335.39 548.88,334.52 550.88,333.65 552.88,332.79 554.87,331.93 556.87,331.07 558.87,330.22 560.86,329.37 562.86,328.53 564.86,327.69 566.85,326.86 568.85,326.03 570.85,325.21 572.84,324.41 574.84,323.61 576.84,322.82 578.83,322.04 580.83,321.28 582.83,320.54 584.82,319.81 586.82,319.10 588.82,318.41 590.81,317.75 592.81,317.12 594.81,316.51 596.80,315.93 598.80,315.39 600.80,314.88 602.79,314.41 604.79,313.97 606.79,313.56 608.78,313.19 610.78,312.85 612.78,312.54 614.77,312.26 616.77,312.00 618.77,311.77 620.76,311.56 622.76,311.36 624.76,311.19 626.75,311.02 628.75,310.87 630.75,310.74 632.74,310.61 634.74,310.49 636.74,310.38 638.73,310.28 640.73,310.18 642.73,310.09 644.72,310.01 646.72,309.92 648.72,309.85 650.71,309.78 652.71,309.71 654.71,309.64 656.70,309.58 658.70,309.52" fill="none" stroke="#3028b0" stroke-width="1.4" stroke-dasharray="4.6 4.6"/>
<text x="466.00" y="243.90" font-size="15.5" text-anchor="start" font-family="Liberation Sans"  fill="#222" letter-spacing="0.3">f )</text>
<text x="529.60" y="431.80" font-size="10.8" text-anchor="start" font-family="Liberation Sans"  fill="#222" >Alpha Power</text>
<text x="596.30" y="431.80" font-size="11" text-anchor="start" font-family="Liberation Sans"  fill="#222" >Post-test Score</text>
<text transform="translate(478.50,314.20) rotate(-90)" font-size="11" text-anchor="middle" font-family="Liberation Sans" fill="#222">Self-efficacy Post-test</text>
<text transform="translate(490.30,313.60) rotate(-90)" font-size="11" text-anchor="middle" font-family="Liberation Sans" fill="#222">Score</text>
<text transform="translate(640.50,375.00) scale(0.955,1)" font-size="10.5" text-anchor="start" font-family="Liberation Serif" font-style="italic" fill="#222" >r = 0.229*</text>
<text transform="translate(640.50,387.20) scale(0.955,1)" font-size="10.5" text-anchor="start" font-family="Liberation Serif" font-style="italic" fill="#222" >p = 0.041</text>
</svg></body></html>
